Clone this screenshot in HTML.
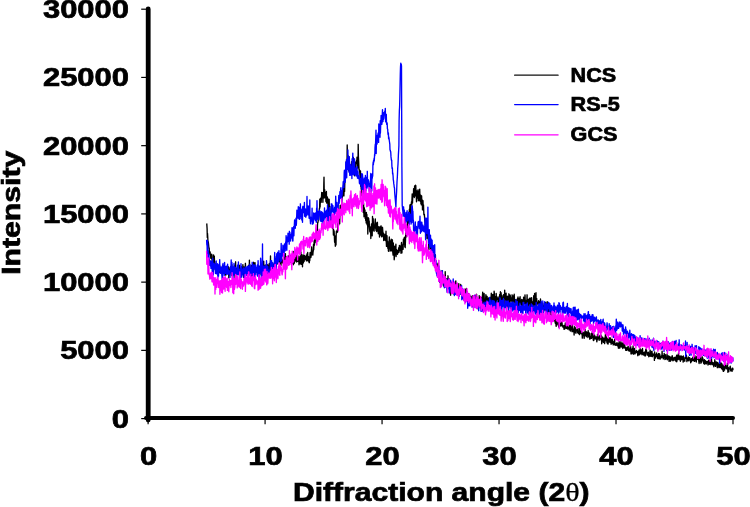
<!DOCTYPE html>
<html><head><meta charset="utf-8"><style>
html,body{margin:0;padding:0;background:#fff;}
svg{display:block;filter:blur(0.45px);}
text{font-family:"Liberation Sans",sans-serif;font-weight:bold;fill:#000;stroke:#000;stroke-width:0.7px;}
</style></head><body>
<svg width="750" height="507" viewBox="0 0 750 507">
<rect width="750" height="507" fill="#fff"/>
<g fill="none" stroke-width="1.35" stroke-linejoin="round">
<path d="M206.6 223.5 206.8 224.0 207.1 228.8 207.3 237.4 207.5 233.4 207.8 238.1 208.0 243.7 208.2 241.6 208.5 243.9 208.7 245.7 208.9 248.1 209.2 248.0 209.4 253.7 209.6 253.0 209.9 254.7 210.1 251.8 210.3 254.3 210.6 256.0 210.8 258.3 211.0 257.2 211.3 257.0 211.5 258.6 211.7 254.1 212.0 255.7 212.2 268.6 212.4 266.5 212.7 261.2 212.9 262.3 213.1 260.6 213.4 260.9 213.6 255.0 213.8 265.9 214.1 263.8 214.3 256.2 214.5 261.1 214.8 261.4 215.0 265.6 215.2 269.7 215.5 264.0 215.7 264.5 215.9 269.3 216.2 267.8 216.4 266.1 216.7 269.3 216.9 266.8 217.1 266.5 217.4 267.1 217.6 269.2 217.8 265.9 218.1 265.2 218.3 267.4 218.5 271.2 218.8 266.1 219.0 270.3 219.2 265.7 219.5 272.2 219.7 265.7 219.9 268.8 220.2 272.9 220.4 269.9 220.6 268.7 220.9 268.0 221.1 272.2 221.3 272.7 221.6 268.4 221.8 270.6 222.0 268.4 222.3 266.7 222.5 274.7 222.7 268.4 223.0 265.2 223.2 270.3 223.4 272.1 223.7 266.9 223.9 268.6 224.1 266.5 224.4 270.7 224.6 274.5 224.8 270.0 225.1 271.2 225.3 267.1 225.5 269.1 225.8 275.2 226.0 273.8 226.2 266.9 226.5 267.7 226.7 272.1 226.9 270.0 227.2 268.6 227.4 268.5 227.6 267.2 227.9 269.3 228.1 270.5 228.3 271.1 228.6 266.8 228.8 277.8 229.1 270.8 229.3 270.3 229.5 275.2 229.8 269.4 230.0 272.7 230.2 267.6 230.5 270.9 230.7 268.3 230.9 266.4 231.2 269.2 231.4 273.4 231.6 275.5 231.9 264.6 232.1 270.8 232.3 272.8 232.6 270.0 232.8 271.1 233.0 267.6 233.3 270.3 233.5 270.4 233.7 272.8 234.0 268.8 234.2 273.8 234.4 268.2 234.7 265.3 234.9 275.5 235.1 278.6 235.4 268.3 235.6 261.8 235.8 273.7 236.1 274.5 236.3 268.3 236.5 273.1 236.8 272.0 237.0 271.5 237.2 268.5 237.5 271.6 237.7 269.3 237.9 270.9 238.2 273.1 238.4 271.3 238.6 273.4 238.9 270.2 239.1 274.0 239.3 273.9 239.6 265.3 239.8 270.4 240.0 270.4 240.3 268.5 240.5 271.6 240.7 270.9 241.0 268.7 241.2 269.2 241.5 274.0 241.7 267.3 241.9 272.1 242.2 273.7 242.4 273.1 242.6 271.4 242.9 264.6 243.1 274.0 243.3 269.5 243.6 277.3 243.8 270.1 244.0 267.0 244.3 270.8 244.5 272.2 244.7 269.2 245.0 267.7 245.2 267.8 245.4 263.3 245.7 269.3 245.9 272.0 246.1 270.4 246.4 270.2 246.6 269.6 246.8 270.1 247.1 269.4 247.3 275.6 247.5 267.1 247.8 271.9 248.0 273.9 248.2 267.7 248.5 265.4 248.7 268.2 248.9 269.3 249.2 273.0 249.4 260.1 249.6 266.9 249.9 273.7 250.1 272.5 250.3 269.5 250.6 275.0 250.8 269.1 251.0 271.2 251.3 265.4 251.5 266.3 251.7 278.7 252.0 269.3 252.2 274.9 252.4 265.6 252.7 268.8 252.9 267.5 253.1 272.9 253.4 263.0 253.6 262.3 253.8 272.8 254.1 267.8 254.3 271.4 254.6 269.1 254.8 273.3 255.0 262.6 255.3 272.2 255.5 269.9 255.7 267.1 256.0 271.0 256.2 269.6 256.4 270.6 256.7 269.1 256.9 272.6 257.1 270.1 257.4 269.2 257.6 269.6 257.8 268.3 258.1 269.4 258.3 265.8 258.5 269.4 258.8 268.8 259.0 270.5 259.2 270.0 259.5 272.5 259.7 266.4 259.9 272.0 260.2 270.6 260.4 266.8 260.6 266.6 260.9 269.3 261.1 274.8 261.3 266.4 261.6 266.9 261.8 272.6 262.0 265.1 262.3 270.1 262.5 271.5 262.7 267.3 263.0 268.2 263.2 266.8 263.4 273.0 263.7 261.2 263.9 269.5 264.1 272.6 264.4 265.2 264.6 268.5 264.8 266.1 265.1 268.4 265.3 267.4 265.5 266.3 265.8 269.6 266.0 264.7 266.2 268.6 266.5 269.9 266.7 266.6 267.0 265.3 267.2 267.6 267.4 269.7 267.7 264.6 267.9 272.7 268.1 270.2 268.4 266.5 268.6 271.3 268.8 266.4 269.1 266.7 269.3 263.4 269.5 269.6 269.8 268.5 270.0 265.2 270.2 274.7 270.5 255.9 270.7 268.6 270.9 268.7 271.2 263.2 271.4 266.2 271.6 272.2 271.9 263.8 272.1 263.0 272.3 267.5 272.6 266.9 272.8 264.2 273.0 268.9 273.3 264.2 273.5 264.8 273.7 267.6 274.0 269.8 274.2 265.6 274.4 267.6 274.7 260.8 274.9 263.5 275.1 261.1 275.4 263.1 275.6 262.4 275.8 265.8 276.1 260.5 276.3 256.4 276.5 263.4 276.8 264.1 277.0 262.4 277.2 263.2 277.5 263.8 277.7 260.6 277.9 261.9 278.2 255.6 278.4 260.4 278.6 259.0 278.9 256.6 279.1 260.7 279.4 254.6 279.6 261.8 279.8 262.4 280.1 260.8 280.3 259.9 280.5 264.4 280.8 259.6 281.0 265.3 281.2 254.6 281.5 259.7 281.7 261.7 281.9 262.6 282.2 260.7 282.4 260.2 282.6 263.0 282.9 262.5 283.1 260.0 283.3 261.1 283.6 256.0 283.8 255.3 284.0 259.2 284.3 257.6 284.5 263.9 284.7 257.0 285.0 259.3 285.2 257.5 285.4 253.6 285.7 267.1 285.9 258.2 286.1 262.9 286.4 257.0 286.6 263.6 286.8 260.8 287.1 258.3 287.3 256.9 287.5 258.7 287.8 261.7 288.0 260.9 288.2 255.9 288.5 259.0 288.7 264.8 288.9 256.0 289.2 257.5 289.4 255.9 289.6 260.1 289.9 256.0 290.1 262.6 290.3 256.9 290.6 260.6 290.8 256.5 291.0 255.4 291.3 261.5 291.5 259.1 291.8 258.8 292.0 254.7 292.2 256.4 292.5 263.1 292.7 257.3 292.9 256.3 293.2 251.4 293.4 264.7 293.6 260.7 293.9 254.2 294.1 263.6 294.3 263.1 294.6 257.0 294.8 255.3 295.0 261.2 295.3 257.0 295.5 258.4 295.7 253.5 296.0 258.8 296.2 255.4 296.4 262.0 296.7 259.5 296.9 259.2 297.1 254.8 297.4 256.8 297.6 261.5 297.8 256.4 298.1 256.1 298.3 259.2 298.5 259.7 298.8 259.5 299.0 264.8 299.2 258.1 299.5 258.0 299.7 261.8 299.9 256.2 300.2 263.6 300.4 260.7 300.6 260.4 300.9 251.8 301.1 264.4 301.3 256.8 301.6 255.4 301.8 257.4 302.0 254.6 302.3 262.3 302.5 266.8 302.7 256.0 303.0 263.0 303.2 259.9 303.4 262.9 303.7 255.0 303.9 255.7 304.2 261.3 304.4 255.5 304.6 258.3 304.9 259.2 305.1 258.5 305.3 259.4 305.6 256.5 305.8 257.6 306.0 259.9 306.3 255.1 306.5 260.9 306.7 257.7 307.0 257.2 307.2 253.5 307.4 260.5 307.7 252.5 307.9 258.1 308.1 259.4 308.4 261.1 308.6 256.6 308.8 258.5 309.1 262.6 309.3 262.7 309.5 260.6 309.8 260.6 310.0 253.9 310.2 252.4 310.5 253.8 310.7 255.1 310.9 257.5 311.2 255.3 311.4 251.9 311.6 247.0 311.9 250.9 312.1 254.7 312.3 253.1 312.6 254.5 312.8 255.1 313.0 252.5 313.3 250.7 313.5 244.4 313.7 249.8 314.0 243.7 314.2 240.7 314.4 245.3 314.7 238.3 314.9 240.0 315.1 242.6 315.4 238.7 315.6 238.1 315.8 237.5 316.1 235.9 316.3 233.2 316.6 230.7 316.8 234.0 317.0 229.3 317.3 233.3 317.5 225.3 317.7 222.5 318.0 222.4 318.2 220.1 318.4 217.2 318.7 220.0 318.9 216.6 319.1 212.0 319.4 208.4 319.6 208.8 319.8 199.1 320.1 207.0 320.3 201.1 320.5 198.3 320.8 201.7 321.0 202.4 321.2 201.9 321.5 196.5 321.7 192.5 321.9 195.2 322.2 195.1 322.4 196.7 322.6 192.7 322.9 202.3 323.1 193.0 323.3 193.3 323.6 198.1 323.8 184.4 324.0 177.1 324.3 196.7 324.5 197.7 324.7 189.6 325.0 197.7 325.2 192.4 325.4 193.2 325.7 195.0 325.9 201.5 326.1 199.4 326.4 191.4 326.6 203.1 326.8 202.0 327.1 200.0 327.3 196.9 327.5 199.5 327.8 198.2 328.0 205.7 328.2 199.3 328.5 202.0 328.7 211.6 329.0 200.9 329.2 199.3 329.4 212.3 329.7 210.4 329.9 206.5 330.1 218.9 330.4 222.1 330.6 220.7 330.8 219.2 331.1 220.5 331.3 217.3 331.5 219.8 331.8 227.0 332.0 221.3 332.2 217.5 332.5 221.4 332.7 223.6 332.9 228.6 333.2 226.2 333.4 235.1 333.6 229.7 333.9 234.3 334.1 230.9 334.3 234.8 334.6 242.2 334.8 238.8 335.0 235.8 335.3 246.3 335.5 244.1 335.7 243.5 336.0 244.9 336.2 233.9 336.4 231.1 336.7 231.7 336.9 232.5 337.1 232.2 337.4 229.7 337.6 232.1 337.8 224.3 338.1 222.3 338.3 221.3 338.5 225.7 338.8 221.9 339.0 221.5 339.2 212.3 339.5 217.3 339.7 223.8 339.9 212.9 340.2 205.2 340.4 208.3 340.6 205.7 340.9 207.4 341.1 213.7 341.4 211.3 341.6 207.3 341.8 201.1 342.1 197.6 342.3 194.3 342.5 196.7 342.8 189.7 343.0 193.0 343.2 193.0 343.5 184.9 343.7 190.3 343.9 195.9 344.2 187.2 344.4 180.7 344.6 191.4 344.9 178.8 345.1 176.9 345.3 179.5 345.6 177.9 345.8 171.8 346.0 170.3 346.3 161.1 346.5 162.8 346.7 169.0 347.0 164.2 347.2 145.0 347.4 153.9 347.7 160.7 347.9 161.6 348.1 155.7 348.4 164.0 348.6 165.8 348.8 170.9 349.1 167.7 349.3 157.1 349.5 172.6 349.8 167.2 350.0 173.6 350.2 167.8 350.5 165.2 350.7 169.9 350.9 165.8 351.2 165.8 351.4 167.0 351.6 161.7 351.9 165.6 352.1 170.1 352.3 171.7 352.6 172.4 352.8 166.9 353.0 170.2 353.3 157.3 353.5 161.1 353.8 169.8 354.0 170.3 354.2 161.2 354.5 175.8 354.7 169.2 354.9 162.7 355.2 170.1 355.4 167.7 355.6 166.6 355.9 161.8 356.1 163.5 356.3 161.8 356.6 160.5 356.8 162.4 357.0 157.2 357.3 164.6 357.5 167.1 357.7 168.0 358.0 166.8 358.2 144.3 358.4 156.5 358.7 161.8 358.9 166.7 359.1 170.3 359.4 169.6 359.6 170.7 359.8 173.0 360.1 178.3 360.3 175.8 360.5 170.9 360.8 186.4 361.0 179.6 361.2 189.3 361.5 180.9 361.7 187.1 361.9 195.7 362.2 188.9 362.4 184.1 362.6 194.3 362.9 192.4 363.1 200.6 363.3 212.5 363.6 203.6 363.8 210.3 364.0 216.7 364.3 207.7 364.5 210.7 364.7 215.2 365.0 209.9 365.2 218.5 365.4 212.6 365.7 220.5 365.9 214.9 366.2 223.0 366.4 212.4 366.6 218.7 366.9 214.4 367.1 224.7 367.3 223.4 367.6 217.8 367.8 234.1 368.0 226.9 368.3 217.7 368.5 220.6 368.7 218.5 369.0 224.6 369.2 220.9 369.4 227.0 369.7 230.2 369.9 231.9 370.1 227.0 370.4 227.3 370.6 227.7 370.8 238.5 371.1 234.0 371.3 227.5 371.5 223.9 371.8 227.9 372.0 229.3 372.2 235.8 372.5 216.5 372.7 230.5 372.9 218.2 373.2 218.9 373.4 224.7 373.6 228.5 373.9 225.5 374.1 231.2 374.3 225.1 374.6 226.3 374.8 224.0 375.0 222.3 375.3 218.9 375.5 228.3 375.7 222.1 376.0 230.3 376.2 230.8 376.4 229.8 376.7 231.5 376.9 223.1 377.1 223.6 377.4 222.3 377.6 228.1 377.8 227.0 378.1 230.9 378.3 233.6 378.6 226.8 378.8 227.8 379.0 234.0 379.3 226.8 379.5 237.1 379.7 230.5 380.0 232.6 380.2 232.4 380.4 235.0 380.7 226.4 380.9 228.3 381.1 225.8 381.4 230.5 381.6 236.8 381.8 233.1 382.1 236.7 382.3 230.1 382.5 227.3 382.8 231.4 383.0 235.8 383.2 235.2 383.5 233.1 383.7 240.5 383.9 234.1 384.2 234.3 384.4 237.8 384.6 237.7 384.9 235.6 385.1 240.1 385.3 240.5 385.6 234.2 385.8 236.9 386.0 231.2 386.3 242.7 386.5 246.4 386.7 235.4 387.0 235.8 387.2 243.2 387.4 246.7 387.7 241.1 387.9 248.6 388.1 243.0 388.4 251.0 388.6 243.2 388.8 251.4 389.1 243.9 389.3 236.9 389.5 244.6 389.8 240.7 390.0 246.8 390.2 248.1 390.5 250.9 390.7 240.8 391.0 245.6 391.2 239.1 391.4 250.9 391.7 247.3 391.9 246.3 392.1 241.2 392.4 239.8 392.6 250.2 392.8 252.4 393.1 255.1 393.3 242.9 393.5 249.0 393.8 251.5 394.0 249.4 394.2 259.8 394.5 256.7 394.7 246.2 394.9 248.7 395.2 249.9 395.4 254.8 395.6 248.7 395.9 244.2 396.1 256.5 396.3 251.4 396.6 253.1 396.8 249.8 397.0 251.0 397.3 251.5 397.5 254.3 397.7 250.7 398.0 253.0 398.2 251.0 398.4 250.5 398.7 247.6 398.9 252.3 399.1 251.1 399.4 245.5 399.6 250.5 399.8 250.5 400.1 245.9 400.3 248.1 400.5 248.7 400.8 248.0 401.0 253.3 401.2 246.3 401.5 242.5 401.7 245.0 401.9 252.9 402.2 245.3 402.4 249.5 402.6 246.5 402.9 244.7 403.1 249.4 403.4 239.2 403.6 244.2 403.8 240.5 404.1 240.7 404.3 237.5 404.5 237.3 404.8 246.7 405.0 240.1 405.2 247.6 405.5 240.3 405.7 235.1 405.9 233.5 406.2 231.2 406.4 236.8 406.6 233.3 406.9 232.5 407.1 226.4 407.3 223.5 407.6 229.3 407.8 214.7 408.0 224.6 408.3 224.4 408.5 219.0 408.7 216.8 409.0 215.9 409.2 218.8 409.4 209.1 409.7 212.9 409.9 205.6 410.1 204.7 410.4 213.6 410.6 211.3 410.8 210.2 411.1 204.3 411.3 203.8 411.5 201.8 411.8 204.7 412.0 198.8 412.2 193.9 412.5 203.1 412.7 197.6 412.9 195.2 413.2 196.3 413.4 196.3 413.6 188.7 413.9 190.3 414.1 191.7 414.3 197.5 414.6 185.9 414.8 192.7 415.0 196.0 415.3 194.9 415.5 185.2 415.8 185.6 416.0 192.8 416.2 193.4 416.5 201.8 416.7 191.0 416.9 197.7 417.2 198.0 417.4 191.6 417.6 197.1 417.9 190.8 418.1 189.8 418.3 200.7 418.6 194.6 418.8 200.0 419.0 194.4 419.3 191.3 419.5 200.4 419.7 189.1 420.0 197.6 420.2 201.4 420.4 198.0 420.7 195.1 420.9 203.8 421.1 199.2 421.4 204.9 421.6 195.8 421.8 200.9 422.1 204.3 422.3 200.0 422.5 209.9 422.8 207.7 423.0 200.6 423.2 209.1 423.5 204.8 423.7 210.3 423.9 214.8 424.2 214.3 424.4 214.5 424.6 218.1 424.9 221.3 425.1 222.8 425.3 227.2 425.6 223.0 425.8 223.6 426.0 224.0 426.3 235.1 426.5 227.1 426.7 231.8 427.0 238.6 427.2 234.6 427.4 233.6 427.7 236.3 427.9 237.2 428.2 237.0 428.4 237.8 428.6 241.8 428.9 249.9 429.1 245.6 429.3 242.0 429.6 245.7 429.8 242.0 430.0 242.1 430.3 245.5 430.5 239.3 430.7 250.4 431.0 244.0 431.2 249.7 431.4 251.4 431.7 246.9 431.9 251.9 432.1 247.1 432.4 255.1 432.6 251.6 432.8 255.8 433.1 254.5 433.3 256.0 433.5 259.7 433.8 254.1 434.0 262.0 434.2 262.0 434.5 256.1 434.7 256.7 434.9 258.8 435.2 261.0 435.4 254.8 435.6 268.5 435.9 267.7 436.1 269.6 436.3 263.7 436.6 266.8 436.8 264.8 437.0 266.2 437.3 270.9 437.5 273.4 437.7 274.4 438.0 263.1 438.2 267.9 438.4 269.6 438.7 273.3 438.9 273.2 439.1 274.0 439.4 274.3 439.6 282.2 439.8 274.0 440.1 275.5 440.3 273.4 440.5 274.0 440.8 272.1 441.0 275.5 441.3 272.9 441.5 285.4 441.7 280.5 442.0 270.6 442.2 281.5 442.4 278.5 442.7 275.3 442.9 281.3 443.1 275.9 443.4 284.0 443.6 286.0 443.8 284.3 444.1 285.8 444.3 280.2 444.5 281.4 444.8 279.3 445.0 284.3 445.2 271.7 445.5 281.3 445.7 281.3 445.9 279.7 446.2 282.4 446.4 284.0 446.6 281.6 446.9 278.8 447.1 279.9 447.3 279.0 447.6 284.6 447.8 285.5 448.0 275.8 448.3 284.0 448.5 281.6 448.7 280.8 449.0 278.6 449.2 288.7 449.4 285.7 449.7 285.7 449.9 285.4 450.1 293.1 450.4 285.1 450.6 295.2 450.8 284.0 451.1 283.4 451.3 283.3 451.5 289.8 451.8 282.3 452.0 288.8 452.2 290.2 452.5 289.5 452.7 289.1 452.9 285.6 453.2 283.4 453.4 293.9 453.7 288.5 453.9 283.5 454.1 286.1 454.4 285.1 454.6 292.3 454.8 283.7 455.1 292.7 455.3 286.6 455.5 282.6 455.8 280.9 456.0 285.8 456.2 284.7 456.5 290.0 456.7 289.7 456.9 284.0 457.2 288.2 457.4 288.8 457.6 293.4 457.9 288.0 458.1 286.4 458.3 291.6 458.6 290.7 458.8 283.6 459.0 288.7 459.3 290.5 459.5 293.7 459.7 292.1 460.0 291.0 460.2 285.6 460.4 292.7 460.7 284.5 460.9 294.2 461.1 292.4 461.4 288.4 461.6 292.4 461.8 294.7 462.1 292.5 462.3 290.6 462.5 298.4 462.8 293.5 463.0 293.2 463.2 294.4 463.5 290.7 463.7 295.4 463.9 294.9 464.2 293.7 464.4 291.5 464.6 295.0 464.9 289.2 465.1 297.8 465.3 290.4 465.6 298.0 465.8 295.8 466.1 294.1 466.3 288.5 466.5 292.7 466.8 297.4 467.0 291.6 467.2 297.0 467.5 299.2 467.7 295.1 467.9 296.5 468.2 293.7 468.4 299.1 468.6 296.1 468.9 295.4 469.1 296.8 469.3 298.0 469.6 300.5 469.8 295.2 470.0 298.0 470.3 296.9 470.5 300.0 470.7 298.9 471.0 302.7 471.2 299.1 471.4 296.9 471.7 299.4 471.9 296.9 472.1 299.0 472.4 295.6 472.6 301.1 472.8 306.1 473.1 299.1 473.3 301.2 473.5 304.0 473.8 298.5 474.0 299.9 474.2 299.4 474.5 302.1 474.7 300.4 474.9 300.3 475.2 295.1 475.4 303.6 475.6 301.4 475.9 300.2 476.1 307.4 476.3 307.0 476.6 294.3 476.8 307.7 477.0 299.8 477.3 304.7 477.5 304.5 477.7 308.7 478.0 305.1 478.2 299.5 478.5 306.9 478.7 300.3 478.9 301.3 479.2 295.6 479.4 304.1 479.6 298.3 479.9 299.5 480.1 303.3 480.3 307.9 480.6 296.9 480.8 306.5 481.0 303.4 481.3 298.6 481.5 297.7 481.7 304.2 482.0 301.3 482.2 301.9 482.4 296.8 482.7 292.2 482.9 306.7 483.1 297.3 483.4 309.9 483.6 300.1 483.8 303.9 484.1 293.4 484.3 299.5 484.5 302.5 484.8 301.7 485.0 301.9 485.2 299.3 485.5 300.5 485.7 297.7 485.9 294.7 486.2 297.5 486.4 304.0 486.6 305.3 486.9 302.4 487.1 296.3 487.3 300.9 487.6 302.0 487.8 299.3 488.0 304.5 488.3 303.5 488.5 298.0 488.7 300.7 489.0 301.2 489.2 298.5 489.4 301.6 489.7 301.9 489.9 301.1 490.1 297.5 490.4 299.3 490.6 303.5 490.9 300.5 491.1 297.3 491.3 293.2 491.6 303.2 491.8 298.2 492.0 300.2 492.3 296.6 492.5 297.8 492.7 294.4 493.0 297.5 493.2 301.1 493.4 301.0 493.7 297.8 493.9 297.9 494.1 291.2 494.4 293.5 494.6 303.0 494.8 297.9 495.1 303.5 495.3 304.6 495.5 296.5 495.8 297.2 496.0 302.4 496.2 293.5 496.5 302.2 496.7 302.8 496.9 296.7 497.2 298.1 497.4 299.4 497.6 299.0 497.9 298.1 498.1 299.2 498.3 299.3 498.6 305.0 498.8 303.2 499.0 296.7 499.3 301.0 499.5 296.8 499.7 294.5 500.0 299.8 500.2 297.6 500.4 291.7 500.7 296.2 500.9 292.4 501.1 293.4 501.4 296.0 501.6 298.8 501.8 301.2 502.1 302.1 502.3 296.8 502.5 296.8 502.8 298.9 503.0 295.5 503.3 300.3 503.5 294.6 503.7 298.1 504.0 298.4 504.2 298.3 504.4 298.7 504.7 290.2 504.9 303.8 505.1 297.9 505.4 294.5 505.6 296.3 505.8 299.7 506.1 293.1 506.3 302.3 506.5 303.2 506.8 297.1 507.0 303.8 507.2 306.9 507.5 296.2 507.7 296.7 507.9 296.8 508.2 300.9 508.4 298.8 508.6 302.6 508.9 293.8 509.1 296.9 509.3 297.2 509.6 306.0 509.8 297.1 510.0 294.9 510.3 295.8 510.5 297.3 510.7 299.9 511.0 301.1 511.2 298.1 511.4 298.9 511.7 299.4 511.9 301.2 512.1 294.8 512.4 304.1 512.6 300.5 512.8 302.4 513.1 297.2 513.3 295.9 513.5 296.6 513.8 298.2 514.0 305.3 514.2 294.1 514.5 299.2 514.7 301.3 514.9 300.9 515.2 302.2 515.4 299.7 515.7 300.2 515.9 302.4 516.1 309.6 516.4 301.5 516.6 299.9 516.8 299.8 517.1 302.0 517.3 300.1 517.5 298.3 517.8 303.2 518.0 297.0 518.2 308.1 518.5 305.9 518.7 304.9 518.9 309.9 519.2 305.3 519.4 298.1 519.6 298.2 519.9 301.9 520.1 296.7 520.3 301.6 520.6 304.0 520.8 301.7 521.0 303.0 521.3 300.2 521.5 307.4 521.7 299.4 522.0 304.0 522.2 299.8 522.4 307.5 522.7 303.9 522.9 302.3 523.1 299.6 523.4 306.4 523.6 297.1 523.8 300.9 524.1 304.1 524.3 298.5 524.5 302.1 524.8 298.7 525.0 294.9 525.2 299.9 525.5 304.0 525.7 303.7 525.9 300.5 526.2 301.4 526.4 305.0 526.6 304.4 526.9 300.2 527.1 294.8 527.3 310.6 527.6 299.9 527.8 302.9 528.1 299.7 528.3 299.4 528.5 302.0 528.8 305.4 529.0 306.6 529.2 308.1 529.5 298.2 529.7 302.8 529.9 303.8 530.2 303.0 530.4 306.3 530.6 301.1 530.9 297.9 531.1 298.4 531.3 307.0 531.6 297.7 531.8 304.4 532.0 308.0 532.3 305.9 532.5 305.0 532.7 302.0 533.0 305.2 533.2 306.7 533.4 302.7 533.7 295.8 533.9 304.1 534.1 300.4 534.4 301.6 534.6 293.4 534.8 307.8 535.1 298.3 535.3 305.9 535.5 303.8 535.8 302.4 536.0 292.7 536.2 304.7 536.5 308.4 536.7 298.4 536.9 305.3 537.2 303.5 537.4 302.9 537.6 302.6 537.9 303.6 538.1 302.3 538.3 302.1 538.6 300.7 538.8 304.8 539.0 306.0 539.3 307.1 539.5 302.0 539.7 304.1 540.0 302.3 540.2 302.5 540.5 299.0 540.7 303.7 540.9 302.2 541.2 308.3 541.4 308.0 541.6 305.8 541.9 308.7 542.1 302.9 542.3 309.2 542.6 305.1 542.8 312.8 543.0 308.8 543.3 306.6 543.5 306.5 543.7 311.2 544.0 305.6 544.2 303.2 544.4 304.2 544.7 308.2 544.9 308.1 545.1 310.0 545.4 304.8 545.6 302.5 545.8 308.4 546.1 311.8 546.3 306.5 546.5 305.1 546.8 315.1 547.0 307.0 547.2 301.6 547.5 305.8 547.7 306.9 547.9 307.7 548.2 306.2 548.4 312.1 548.6 312.2 548.9 309.1 549.1 312.5 549.3 310.2 549.6 316.5 549.8 309.6 550.0 309.7 550.3 312.2 550.5 312.3 550.7 308.7 551.0 316.3 551.2 316.2 551.4 317.0 551.7 315.6 551.9 317.5 552.1 315.1 552.4 317.3 552.6 319.7 552.9 320.3 553.1 313.5 553.3 317.1 553.6 317.9 553.8 317.6 554.0 318.3 554.3 316.5 554.5 317.3 554.7 320.6 555.0 321.6 555.2 322.6 555.4 323.3 555.7 317.1 555.9 323.2 556.1 326.3 556.4 323.7 556.6 323.9 556.8 321.6 557.1 324.9 557.3 321.8 557.5 322.5 557.8 320.7 558.0 319.0 558.2 317.4 558.5 321.1 558.7 327.1 558.9 325.4 559.2 323.9 559.4 319.8 559.6 323.1 559.9 322.0 560.1 325.2 560.3 323.5 560.6 323.3 560.8 326.1 561.0 323.3 561.3 322.8 561.5 325.6 561.7 323.1 562.0 321.7 562.2 325.3 562.4 325.6 562.7 326.3 562.9 327.1 563.1 325.4 563.4 326.8 563.6 326.6 563.8 327.7 564.1 329.4 564.3 328.2 564.5 325.5 564.8 328.9 565.0 327.8 565.3 322.9 565.5 324.1 565.7 328.1 566.0 325.4 566.2 328.2 566.4 323.3 566.7 328.2 566.9 326.8 567.1 324.0 567.4 328.9 567.6 324.3 567.8 329.0 568.1 326.8 568.3 328.0 568.5 327.7 568.8 327.2 569.0 327.8 569.2 329.9 569.5 325.9 569.7 326.3 569.9 325.1 570.2 325.0 570.4 331.0 570.6 325.4 570.9 325.4 571.1 329.4 571.3 326.1 571.6 325.3 571.8 329.7 572.0 331.6 572.3 329.5 572.5 322.8 572.7 328.4 573.0 331.6 573.2 329.7 573.4 331.4 573.7 330.2 573.9 329.2 574.1 335.0 574.4 328.8 574.6 326.6 574.8 330.2 575.1 330.7 575.3 327.6 575.5 332.8 575.8 332.8 576.0 333.2 576.2 330.7 576.5 329.6 576.7 330.7 576.9 329.5 577.2 328.9 577.4 329.8 577.7 332.7 577.9 331.6 578.1 328.4 578.4 333.5 578.6 331.8 578.8 332.3 579.1 331.9 579.3 333.9 579.5 334.6 579.8 326.3 580.0 329.9 580.2 333.5 580.5 332.2 580.7 330.7 580.9 333.0 581.2 331.0 581.4 333.8 581.6 333.3 581.9 332.8 582.1 333.7 582.3 338.1 582.6 332.9 582.8 332.5 583.0 332.1 583.3 335.3 583.5 332.6 583.7 332.9 584.0 337.3 584.2 338.3 584.4 332.6 584.7 335.8 584.9 331.7 585.1 329.4 585.4 335.2 585.6 335.6 585.8 334.2 586.1 332.8 586.3 336.8 586.5 331.8 586.8 332.4 587.0 333.2 587.2 335.8 587.5 332.8 587.7 333.1 587.9 337.5 588.2 330.6 588.4 335.8 588.6 334.4 588.9 336.4 589.1 334.6 589.3 333.0 589.6 337.3 589.8 339.2 590.1 336.7 590.3 338.6 590.5 337.5 590.8 336.3 591.0 336.2 591.2 333.4 591.5 338.4 591.7 335.6 591.9 337.5 592.2 333.6 592.4 331.3 592.6 336.1 592.9 333.2 593.1 338.0 593.3 340.3 593.6 339.7 593.8 340.5 594.0 339.2 594.3 337.7 594.5 334.8 594.7 335.8 595.0 336.4 595.2 338.3 595.4 339.0 595.7 337.4 595.9 337.3 596.1 337.1 596.4 336.9 596.6 337.9 596.8 341.8 597.1 340.1 597.3 339.6 597.5 334.3 597.8 338.8 598.0 336.5 598.2 334.9 598.5 337.4 598.7 338.9 598.9 338.8 599.2 340.3 599.4 337.6 599.6 335.9 599.9 337.1 600.1 336.8 600.3 336.9 600.6 334.3 600.8 339.8 601.0 338.2 601.3 337.1 601.5 336.0 601.7 343.8 602.0 339.8 602.2 339.2 602.5 341.0 602.7 337.1 602.9 338.5 603.2 339.8 603.4 342.4 603.6 341.8 603.9 341.2 604.1 338.2 604.3 341.8 604.6 343.6 604.8 342.3 605.0 340.6 605.3 335.9 605.5 334.2 605.7 340.5 606.0 337.6 606.2 336.7 606.4 337.0 606.7 339.9 606.9 342.4 607.1 340.8 607.4 343.7 607.6 339.4 607.8 338.4 608.1 344.0 608.3 340.3 608.5 339.7 608.8 337.8 609.0 337.6 609.2 338.9 609.5 342.1 609.7 341.6 609.9 338.4 610.2 342.3 610.4 341.2 610.6 338.0 610.9 341.1 611.1 344.3 611.3 342.2 611.6 340.3 611.8 342.2 612.0 339.5 612.3 339.3 612.5 343.4 612.7 343.2 613.0 342.5 613.2 344.9 613.4 341.7 613.7 343.0 613.9 341.1 614.1 344.1 614.4 344.7 614.6 339.2 614.9 344.9 615.1 344.4 615.3 344.9 615.6 344.1 615.8 345.4 616.0 343.8 616.3 345.2 616.5 344.7 616.7 343.2 617.0 342.6 617.2 343.2 617.4 345.8 617.7 343.6 617.9 344.8 618.1 344.8 618.4 348.2 618.6 343.4 618.8 345.2 619.1 341.5 619.3 343.8 619.5 347.5 619.8 348.2 620.0 343.1 620.2 347.3 620.5 344.3 620.7 346.4 620.9 341.6 621.2 345.8 621.4 343.0 621.6 343.5 621.9 347.2 622.1 347.1 622.3 343.5 622.6 346.6 622.8 348.5 623.0 344.3 623.3 341.6 623.5 347.1 623.7 344.2 624.0 347.5 624.2 344.5 624.4 347.9 624.7 344.8 624.9 346.5 625.1 348.1 625.4 347.3 625.6 349.0 625.8 350.3 626.1 350.2 626.3 348.3 626.5 350.4 626.8 347.5 627.0 347.4 627.3 347.6 627.5 349.7 627.7 348.7 628.0 348.9 628.2 346.3 628.4 350.7 628.7 350.0 628.9 349.8 629.1 349.7 629.4 351.0 629.6 350.9 629.8 347.7 630.1 351.1 630.3 348.1 630.5 345.9 630.8 347.5 631.0 353.9 631.2 348.8 631.5 349.5 631.7 349.4 631.9 353.9 632.2 349.2 632.4 353.1 632.6 348.3 632.9 348.8 633.1 345.9 633.3 351.8 633.6 354.2 633.8 349.0 634.0 349.4 634.3 352.0 634.5 348.5 634.7 349.9 635.0 353.9 635.2 352.1 635.4 352.3 635.7 351.7 635.9 351.1 636.1 352.9 636.4 352.0 636.6 350.4 636.8 351.8 637.1 352.3 637.3 352.4 637.5 352.0 637.8 355.7 638.0 351.6 638.2 354.0 638.5 351.7 638.7 354.9 638.9 350.2 639.2 351.6 639.4 354.8 639.6 351.7 639.9 353.7 640.1 348.6 640.4 351.3 640.6 353.9 640.8 351.9 641.1 352.5 641.3 350.0 641.5 351.8 641.8 351.5 642.0 354.8 642.2 351.0 642.5 348.5 642.7 351.4 642.9 352.8 643.2 352.4 643.4 354.7 643.6 352.5 643.9 355.1 644.1 352.8 644.3 353.7 644.6 354.6 644.8 351.9 645.0 356.0 645.3 353.2 645.5 355.8 645.7 349.6 646.0 349.3 646.2 351.6 646.4 349.5 646.7 352.2 646.9 352.3 647.1 354.3 647.4 355.2 647.6 353.3 647.8 354.6 648.1 354.5 648.3 352.2 648.5 353.9 648.8 356.8 649.0 354.2 649.2 355.3 649.5 354.4 649.7 356.0 649.9 351.5 650.2 350.2 650.4 356.2 650.6 352.8 650.9 352.9 651.1 356.3 651.3 354.0 651.6 351.5 651.8 352.6 652.0 351.2 652.3 356.7 652.5 356.0 652.8 354.0 653.0 353.9 653.2 354.6 653.5 355.5 653.7 355.6 653.9 356.0 654.2 354.0 654.4 360.4 654.6 351.9 654.9 356.1 655.1 357.9 655.3 354.1 655.6 358.0 655.8 354.5 656.0 356.1 656.3 354.3 656.5 353.9 656.7 353.0 657.0 356.6 657.2 356.2 657.4 355.7 657.7 358.5 657.9 354.7 658.1 355.6 658.4 358.6 658.6 353.6 658.8 353.4 659.1 358.7 659.3 355.1 659.5 353.8 659.8 354.6 660.0 358.3 660.2 359.1 660.5 356.7 660.7 357.5 660.9 356.6 661.2 356.8 661.4 355.7 661.6 357.8 661.9 357.1 662.1 351.1 662.3 357.2 662.6 355.5 662.8 356.5 663.0 356.7 663.3 358.9 663.5 356.2 663.7 357.4 664.0 355.7 664.2 353.4 664.4 357.1 664.7 356.0 664.9 359.5 665.2 357.4 665.4 354.7 665.6 357.8 665.9 359.0 666.1 357.4 666.3 358.2 666.6 358.4 666.8 358.7 667.0 354.2 667.3 359.8 667.5 359.0 667.7 359.3 668.0 355.9 668.2 358.9 668.4 355.9 668.7 358.1 668.9 358.5 669.1 361.4 669.4 356.3 669.6 357.6 669.8 358.0 670.1 359.0 670.3 359.6 670.5 361.2 670.8 357.0 671.0 358.3 671.2 359.5 671.5 360.0 671.7 358.5 671.9 358.9 672.2 355.6 672.4 357.3 672.6 359.9 672.9 360.9 673.1 359.2 673.3 360.5 673.6 358.6 673.8 357.9 674.0 357.5 674.3 357.9 674.5 359.1 674.7 357.5 675.0 360.4 675.2 358.8 675.4 357.1 675.7 358.1 675.9 361.1 676.1 360.9 676.4 361.7 676.6 355.2 676.8 361.6 677.1 358.9 677.3 355.1 677.6 356.6 677.8 356.1 678.0 359.6 678.3 357.2 678.5 353.0 678.7 358.7 679.0 357.8 679.2 359.2 679.4 358.6 679.7 357.9 679.9 355.9 680.1 360.3 680.4 361.3 680.6 358.5 680.8 358.2 681.1 355.9 681.3 357.2 681.5 359.7 681.8 357.5 682.0 356.4 682.2 358.0 682.5 359.2 682.7 357.2 682.9 359.2 683.2 362.1 683.4 356.0 683.6 361.0 683.9 359.1 684.1 359.1 684.3 359.1 684.6 359.0 684.8 361.2 685.0 357.5 685.3 358.4 685.5 358.4 685.7 356.5 686.0 356.5 686.2 356.1 686.4 355.1 686.7 357.8 686.9 361.6 687.1 358.3 687.4 358.7 687.6 358.6 687.8 359.9 688.1 360.4 688.3 357.3 688.5 357.0 688.8 360.9 689.0 357.9 689.2 359.2 689.5 359.6 689.7 357.6 690.0 359.1 690.2 360.0 690.4 358.9 690.7 362.8 690.9 360.2 691.1 359.9 691.4 361.7 691.6 358.8 691.8 358.6 692.1 360.3 692.3 359.5 692.5 358.0 692.8 357.3 693.0 360.7 693.2 358.7 693.5 357.4 693.7 359.4 693.9 360.8 694.2 360.8 694.4 360.0 694.6 361.4 694.9 355.7 695.1 360.6 695.3 358.8 695.6 359.2 695.8 358.4 696.0 360.3 696.3 362.0 696.5 356.6 696.7 359.8 697.0 359.5 697.2 359.3 697.4 357.4 697.7 358.3 697.9 357.6 698.1 358.3 698.4 359.5 698.6 359.4 698.8 361.3 699.1 363.5 699.3 360.4 699.5 361.9 699.8 355.2 700.0 357.1 700.2 357.8 700.5 361.1 700.7 356.2 700.9 363.3 701.2 362.4 701.4 361.7 701.6 362.1 701.9 360.1 702.1 360.1 702.4 356.9 702.6 358.7 702.8 358.3 703.1 359.9 703.3 361.0 703.5 362.0 703.8 363.6 704.0 362.5 704.2 361.6 704.5 359.6 704.7 364.2 704.9 363.6 705.2 360.8 705.4 363.2 705.6 360.7 705.9 362.1 706.1 362.8 706.3 363.9 706.6 361.7 706.8 362.9 707.0 362.8 707.3 362.9 707.5 361.4 707.7 361.6 708.0 365.0 708.2 362.3 708.4 361.3 708.7 360.2 708.9 360.7 709.1 361.8 709.4 364.4 709.6 363.7 709.8 360.7 710.1 363.7 710.3 360.6 710.5 360.2 710.8 364.6 711.0 361.9 711.2 362.9 711.5 359.1 711.7 361.3 711.9 363.8 712.2 362.2 712.4 364.7 712.6 363.4 712.9 362.8 713.1 362.9 713.3 362.7 713.6 365.0 713.8 366.8 714.0 364.1 714.3 365.1 714.5 364.8 714.8 359.7 715.0 361.6 715.2 364.1 715.5 366.4 715.7 366.2 715.9 363.3 716.2 362.0 716.4 364.6 716.6 363.9 716.9 363.7 717.1 362.3 717.3 367.7 717.6 364.1 717.8 363.7 718.0 362.8 718.3 363.9 718.5 366.7 718.7 365.8 719.0 367.6 719.2 364.6 719.4 364.7 719.7 364.2 719.9 366.9 720.1 367.3 720.4 362.6 720.6 365.1 720.8 362.4 721.1 364.8 721.3 368.3 721.5 364.3 721.8 363.6 722.0 366.7 722.2 369.5 722.5 364.9 722.7 366.4 722.9 365.7 723.2 371.1 723.4 365.6 723.6 371.4 723.9 368.1 724.1 365.0 724.3 370.0 724.6 370.1 724.8 367.7 725.0 364.0 725.3 364.1 725.5 368.2 725.7 365.4 726.0 366.2 726.2 366.9 726.4 366.8 726.7 368.8 726.9 366.2 727.2 365.8 727.4 362.9 727.6 366.2 727.9 372.3 728.1 370.2 728.3 367.5 728.6 368.1 728.8 371.6 729.0 368.6 729.3 369.1 729.5 368.6 729.7 368.8 730.0 367.0 730.2 366.1 730.4 367.6 730.7 370.9 730.9 370.5 731.1 370.2 731.4 369.3 731.6 370.1 731.8 370.1 732.1 371.3 732.3 368.1 732.5 368.4 732.8 368.3 733.0 370.3" stroke="#000"/>
<path d="M206.6 239.8 206.8 244.3 207.1 246.0 207.3 257.0 207.5 240.7 207.8 245.7 208.0 253.6 208.2 250.3 208.5 253.9 208.7 259.0 208.9 253.8 209.2 260.8 209.4 262.4 209.6 265.3 209.9 260.3 210.1 263.2 210.3 260.8 210.6 266.3 210.8 263.5 211.0 268.4 211.3 261.3 211.5 264.6 211.7 264.4 212.0 264.5 212.2 271.1 212.4 263.7 212.7 258.2 212.9 274.5 213.1 275.0 213.4 274.1 213.6 264.0 213.8 267.2 214.1 263.2 214.3 264.8 214.5 267.2 214.8 267.0 215.0 269.1 215.2 264.6 215.5 273.5 215.7 270.5 215.9 267.7 216.2 261.0 216.4 272.3 216.7 273.8 216.9 271.7 217.1 265.1 217.4 270.4 217.6 263.7 217.8 277.8 218.1 264.8 218.3 265.3 218.5 276.1 218.8 269.2 219.0 264.6 219.2 269.5 219.5 265.6 219.7 259.6 219.9 268.8 220.2 271.2 220.4 273.3 220.6 267.2 220.9 270.9 221.1 270.8 221.3 270.5 221.6 267.2 221.8 274.7 222.0 276.8 222.3 280.7 222.5 264.9 222.7 269.8 223.0 263.5 223.2 270.2 223.4 273.4 223.7 268.1 223.9 270.5 224.1 275.7 224.4 274.1 224.6 262.5 224.8 268.7 225.1 268.4 225.3 271.5 225.5 273.3 225.8 266.4 226.0 270.8 226.2 273.6 226.5 270.9 226.7 274.3 226.9 269.5 227.2 265.4 227.4 274.0 227.6 264.2 227.9 273.3 228.1 269.8 228.3 274.1 228.6 271.4 228.8 270.3 229.1 272.4 229.3 273.6 229.5 273.5 229.8 274.1 230.0 277.4 230.2 271.7 230.5 268.8 230.7 266.6 230.9 267.8 231.2 259.9 231.4 269.2 231.6 272.6 231.9 262.5 232.1 275.2 232.3 266.4 232.6 274.9 232.8 269.2 233.0 279.3 233.3 266.8 233.5 271.4 233.7 275.0 234.0 263.4 234.2 267.4 234.4 270.6 234.7 274.1 234.9 271.0 235.1 271.5 235.4 267.7 235.6 267.4 235.8 273.8 236.1 273.3 236.3 273.2 236.5 276.8 236.8 273.5 237.0 271.3 237.2 267.9 237.5 265.2 237.7 274.5 237.9 268.6 238.2 273.0 238.4 262.0 238.6 271.3 238.9 268.9 239.1 275.2 239.3 274.6 239.6 270.2 239.8 272.8 240.0 269.6 240.3 278.0 240.5 268.3 240.7 275.1 241.0 263.7 241.2 272.4 241.5 266.4 241.7 277.3 241.9 269.3 242.2 275.1 242.4 273.3 242.6 271.1 242.9 272.6 243.1 270.0 243.3 267.9 243.6 268.3 243.8 271.5 244.0 277.1 244.3 274.6 244.5 272.0 244.7 280.4 245.0 267.8 245.2 272.1 245.4 272.2 245.7 266.9 245.9 268.2 246.1 270.1 246.4 275.4 246.6 269.7 246.8 269.5 247.1 274.9 247.3 266.5 247.5 268.8 247.8 279.6 248.0 270.5 248.2 276.5 248.5 266.0 248.7 267.5 248.9 275.8 249.2 274.8 249.4 270.5 249.6 272.0 249.9 264.3 250.1 267.7 250.3 272.2 250.6 268.4 250.8 279.8 251.0 269.5 251.3 267.1 251.5 271.7 251.7 274.0 252.0 268.4 252.2 262.3 252.4 270.0 252.7 275.7 252.9 264.5 253.1 279.0 253.4 268.6 253.6 273.3 253.8 266.7 254.1 274.5 254.3 265.0 254.6 269.5 254.8 278.3 255.0 279.4 255.3 272.1 255.5 265.1 255.7 270.2 256.0 270.4 256.2 271.7 256.4 267.5 256.7 269.1 256.9 269.5 257.1 275.0 257.4 265.5 257.6 264.7 257.8 276.3 258.1 260.6 258.3 267.5 258.5 272.8 258.8 278.9 259.0 267.8 259.2 268.2 259.5 273.2 259.7 278.4 259.9 265.7 260.2 273.2 260.4 272.6 260.6 258.1 260.9 261.3 261.1 266.4 261.3 272.5 261.6 267.7 261.8 280.4 262.0 269.9 262.3 273.6 262.5 243.9 262.7 277.0 263.0 267.7 263.2 269.6 263.4 269.2 263.7 266.1 263.9 273.4 264.1 275.0 264.4 277.3 264.6 270.9 264.8 266.0 265.1 269.9 265.3 266.4 265.5 274.3 265.8 271.1 266.0 272.3 266.2 274.3 266.5 260.7 266.7 265.0 267.0 271.9 267.2 271.9 267.4 268.7 267.7 274.7 267.9 266.4 268.1 273.8 268.4 269.7 268.6 272.5 268.8 270.0 269.1 273.7 269.3 274.6 269.5 271.9 269.8 270.6 270.0 268.8 270.2 267.1 270.5 260.7 270.7 263.7 270.9 268.3 271.2 263.9 271.4 270.0 271.6 260.6 271.9 264.5 272.1 272.7 272.3 263.4 272.6 263.0 272.8 278.3 273.0 269.7 273.3 268.1 273.5 274.1 273.7 270.0 274.0 269.1 274.2 262.4 274.4 262.9 274.7 252.4 274.9 265.2 275.1 258.1 275.4 262.4 275.6 261.2 275.8 267.0 276.1 269.9 276.3 264.6 276.5 257.5 276.8 253.6 277.0 257.5 277.2 257.6 277.5 263.0 277.7 252.3 277.9 252.7 278.2 260.6 278.4 258.1 278.6 261.9 278.9 250.7 279.1 255.0 279.4 256.8 279.6 254.2 279.8 253.7 280.1 257.1 280.3 260.4 280.5 260.2 280.8 261.9 281.0 251.7 281.2 243.5 281.5 260.6 281.7 252.1 281.9 250.5 282.2 256.3 282.4 250.5 282.6 255.9 282.9 245.2 283.1 252.8 283.3 249.2 283.6 246.1 283.8 250.7 284.0 256.4 284.3 250.2 284.5 244.0 284.7 247.3 285.0 245.5 285.2 250.9 285.4 245.0 285.7 241.9 285.9 244.5 286.1 235.6 286.4 244.8 286.6 248.1 286.8 250.3 287.1 237.2 287.3 242.3 287.5 236.9 287.8 239.0 288.0 233.2 288.2 234.4 288.5 241.5 288.7 238.1 288.9 233.9 289.2 244.2 289.4 231.3 289.6 232.0 289.9 232.6 290.1 237.6 290.3 234.9 290.6 241.0 290.8 235.1 291.0 237.6 291.3 234.1 291.5 236.3 291.8 232.3 292.0 227.7 292.2 238.8 292.5 228.0 292.7 241.0 292.9 241.0 293.2 230.8 293.4 229.5 293.6 226.7 293.9 235.8 294.1 227.6 294.3 226.0 294.6 219.9 294.8 225.6 295.0 221.9 295.3 228.3 295.5 223.8 295.7 224.3 296.0 218.1 296.2 225.4 296.4 224.0 296.7 216.5 296.9 210.1 297.1 216.0 297.4 215.6 297.6 218.0 297.8 210.4 298.1 212.6 298.3 206.6 298.5 213.0 298.8 218.8 299.0 216.7 299.2 218.5 299.5 219.4 299.7 207.1 299.9 209.0 300.2 218.6 300.4 203.8 300.6 210.9 300.9 216.4 301.1 209.6 301.3 211.6 301.6 214.7 301.8 220.1 302.0 210.2 302.3 208.7 302.5 222.3 302.7 206.9 303.0 206.3 303.2 211.3 303.4 208.2 303.7 209.8 303.9 212.7 304.2 210.6 304.4 202.5 304.6 216.3 304.9 208.3 305.1 208.8 305.3 213.3 305.6 212.2 305.8 217.2 306.0 214.7 306.3 210.6 306.5 209.3 306.7 215.5 307.0 196.5 307.2 214.3 307.4 211.1 307.7 213.1 307.9 214.1 308.1 205.9 308.4 214.9 308.6 206.1 308.8 207.2 309.1 218.3 309.3 208.1 309.5 216.7 309.8 200.0 310.0 215.7 310.2 218.7 310.5 223.7 310.7 220.8 310.9 217.4 311.2 219.7 311.4 221.1 311.6 218.6 311.9 216.3 312.1 208.2 312.3 224.2 312.6 218.6 312.8 220.8 313.0 223.8 313.3 222.7 313.5 221.1 313.7 213.0 314.0 217.5 314.2 219.2 314.4 213.4 314.7 215.0 314.9 217.5 315.1 214.4 315.4 220.5 315.6 213.0 315.8 213.8 316.1 218.2 316.3 222.3 316.6 208.2 316.8 215.5 317.0 200.6 317.3 219.2 317.5 211.4 317.7 218.0 318.0 214.4 318.2 211.4 318.4 219.7 318.7 216.1 318.9 214.7 319.1 214.9 319.4 212.3 319.6 210.1 319.8 211.0 320.1 213.9 320.3 217.1 320.5 221.1 320.8 219.1 321.0 218.0 321.2 211.7 321.5 217.2 321.7 221.7 321.9 212.0 322.2 219.5 322.4 219.3 322.6 216.4 322.9 212.8 323.1 227.9 323.3 221.1 323.6 214.3 323.8 217.2 324.0 219.8 324.3 218.1 324.5 208.0 324.7 217.7 325.0 211.4 325.2 211.0 325.4 217.4 325.7 212.7 325.9 217.3 326.1 218.1 326.4 220.7 326.6 210.1 326.8 216.8 327.1 217.5 327.3 220.5 327.5 204.8 327.8 210.4 328.0 215.0 328.2 217.9 328.5 222.3 328.7 212.5 329.0 212.5 329.2 221.5 329.4 207.7 329.7 209.5 329.9 218.5 330.1 216.1 330.4 215.1 330.6 211.7 330.8 213.0 331.1 220.8 331.3 203.8 331.5 209.7 331.8 204.4 332.0 204.1 332.2 211.7 332.5 208.5 332.7 206.1 332.9 205.6 333.2 210.4 333.4 212.6 333.6 208.8 333.9 213.1 334.1 211.5 334.3 219.2 334.6 207.4 334.8 213.2 335.0 210.4 335.3 207.4 335.5 205.0 335.7 196.1 336.0 204.9 336.2 213.4 336.4 204.7 336.7 208.3 336.9 202.5 337.1 208.1 337.4 207.9 337.6 206.4 337.8 206.7 338.1 212.9 338.3 206.3 338.5 202.4 338.8 195.4 339.0 203.2 339.2 203.3 339.5 197.8 339.7 197.7 339.9 191.6 340.2 196.0 340.4 198.2 340.6 189.7 340.9 187.6 341.1 197.4 341.4 192.8 341.6 201.7 341.8 193.5 342.1 195.2 342.3 190.5 342.5 190.7 342.8 187.7 343.0 186.1 343.2 181.6 343.5 181.7 343.7 184.7 343.9 187.4 344.2 172.5 344.4 170.2 344.6 179.0 344.9 172.3 345.1 182.3 345.3 181.2 345.6 173.0 345.8 162.3 346.0 175.2 346.3 173.4 346.5 159.5 346.7 177.7 347.0 163.3 347.2 163.5 347.4 166.6 347.7 163.8 347.9 150.0 348.1 169.5 348.4 165.5 348.6 165.4 348.8 168.2 349.1 172.1 349.3 156.7 349.5 164.4 349.8 175.4 350.0 170.1 350.2 164.5 350.5 164.9 350.7 175.1 350.9 168.3 351.2 166.7 351.4 166.4 351.6 166.8 351.9 178.5 352.1 158.8 352.3 167.5 352.6 158.9 352.8 153.1 353.0 169.2 353.3 174.8 353.5 163.5 353.8 169.0 354.0 170.4 354.2 173.4 354.5 158.8 354.7 170.0 354.9 175.0 355.2 169.9 355.4 174.4 355.6 168.1 355.9 171.9 356.1 176.0 356.3 167.9 356.6 175.3 356.8 168.8 357.0 166.6 357.3 176.0 357.5 178.2 357.7 174.5 358.0 171.5 358.2 177.0 358.4 177.0 358.7 178.6 358.9 177.1 359.1 175.8 359.4 183.2 359.6 182.4 359.8 180.0 360.1 184.1 360.3 180.2 360.5 178.5 360.8 181.8 361.0 185.2 361.2 186.5 361.5 173.6 361.7 178.5 361.9 189.4 362.2 188.3 362.4 174.0 362.6 175.9 362.9 183.2 363.1 177.8 363.3 191.7 363.6 183.9 363.8 180.0 364.0 193.6 364.3 188.0 364.5 179.8 364.7 177.9 365.0 187.0 365.2 182.4 365.4 175.5 365.7 185.9 365.9 190.9 366.2 184.2 366.4 185.9 366.6 177.1 366.9 183.0 367.1 188.1 367.3 171.3 367.6 186.5 367.8 181.4 368.0 180.3 368.3 179.8 368.5 183.0 368.7 180.8 369.0 184.2 369.2 191.3 369.4 185.0 369.7 184.9 369.9 184.8 370.1 183.2 370.4 187.1 370.6 175.9 370.8 173.5 371.1 192.0 371.3 179.5 371.5 182.1 371.8 190.9 372.0 174.1 372.2 178.4 372.5 176.0 372.7 176.3 372.9 165.0 373.2 161.9 373.4 164.6 373.6 160.1 373.9 161.9 374.1 158.3 374.3 160.6 374.6 154.2 374.8 155.8 375.0 147.8 375.3 144.1 375.5 145.3 375.7 139.4 376.0 130.1 376.2 153.6 376.4 141.2 376.7 142.8 376.9 140.8 377.1 144.0 377.4 135.3 377.6 135.5 377.8 136.0 378.1 133.0 378.3 134.0 378.6 142.4 378.8 124.0 379.0 130.4 379.3 133.1 379.5 125.9 379.7 130.2 380.0 137.3 380.2 120.8 380.4 133.3 380.7 125.1 380.9 122.6 381.1 115.5 381.4 115.7 381.6 120.3 381.8 124.4 382.1 121.9 382.3 113.7 382.5 109.7 382.8 115.7 383.0 121.5 383.2 112.4 383.5 119.3 383.7 119.0 383.9 117.9 384.2 113.0 384.4 114.8 384.6 112.2 384.9 110.9 385.1 112.9 385.3 108.4 385.6 121.8 385.8 117.5 386.0 119.7 386.3 114.3 386.5 122.6 386.7 124.4 387.0 122.6 387.2 123.7 387.4 128.8 387.7 129.2 387.9 133.2 388.1 134.6 388.4 133.0 388.6 138.7 388.8 136.9 389.1 138.9 389.3 140.5 389.5 142.0 389.8 144.2 390.0 149.9 390.2 149.9 390.5 151.6 390.7 151.5 391.0 156.9 391.2 158.5 391.4 160.2 391.7 160.0 391.9 166.3 392.1 168.5 392.4 167.8 392.6 174.1 392.8 172.8 393.1 176.2 393.3 180.1 393.5 180.6 393.8 183.9 394.0 184.8 394.2 187.1 394.5 188.0 394.7 192.8 394.9 195.2 395.2 198.8 395.4 200.6 395.6 202.9 395.9 207.1 396.1 200.6 396.3 196.9 396.6 191.8 396.8 187.0 397.0 182.0 397.3 177.8 397.5 173.7 397.7 168.5 398.0 164.1 398.2 159.7 398.4 154.8 398.7 149.7 398.9 145.6 399.1 121.0 399.4 109.7 399.6 106.9 399.8 99.2 400.1 83.8 400.3 74.0 400.5 67.0 400.8 63.1 401.0 66.8 401.2 64.2 401.5 66.2 401.7 118.8 401.9 166.7 402.2 205.3 402.4 206.8 402.6 209.6 402.9 211.6 403.1 216.2 403.4 213.2 403.6 206.8 403.8 212.5 404.1 213.0 404.3 209.8 404.5 217.0 404.8 217.3 405.0 217.7 405.2 224.9 405.5 214.8 405.7 215.1 405.9 212.5 406.2 222.2 406.4 220.6 406.6 212.7 406.9 215.5 407.1 210.7 407.3 220.8 407.6 216.0 407.8 219.9 408.0 215.5 408.3 219.1 408.5 214.5 408.7 212.1 409.0 213.9 409.2 225.0 409.4 212.7 409.7 214.9 409.9 221.5 410.1 220.8 410.4 216.9 410.6 214.4 410.8 218.9 411.1 224.1 411.3 215.7 411.5 216.1 411.8 206.1 412.0 222.6 412.2 205.7 412.5 209.2 412.7 215.6 412.9 211.1 413.2 221.0 413.4 220.2 413.6 230.8 413.9 227.2 414.1 232.0 414.3 234.5 414.6 228.8 414.8 230.5 415.0 225.1 415.3 222.0 415.5 228.4 415.8 227.4 416.0 226.8 416.2 235.0 416.5 226.5 416.7 227.6 416.9 227.9 417.2 232.5 417.4 236.3 417.6 228.8 417.9 226.3 418.1 221.9 418.3 222.8 418.6 221.4 418.8 226.1 419.0 222.7 419.3 228.6 419.5 225.0 419.7 223.7 420.0 216.1 420.2 226.7 420.4 233.3 420.7 221.8 420.9 231.2 421.1 228.1 421.4 229.1 421.6 231.7 421.8 222.1 422.1 225.3 422.3 230.5 422.5 227.6 422.8 229.7 423.0 225.2 423.2 229.5 423.5 231.2 423.7 230.7 423.9 229.8 424.2 226.7 424.4 231.9 424.6 228.3 424.9 226.0 425.1 218.0 425.3 224.0 425.6 239.8 425.8 228.7 426.0 227.7 426.3 224.1 426.5 218.2 426.7 221.1 427.0 233.5 427.2 223.1 427.4 226.0 427.7 226.7 427.9 207.1 428.2 237.1 428.4 229.8 428.6 243.5 428.9 238.2 429.1 237.3 429.3 229.7 429.6 242.8 429.8 247.5 430.0 237.9 430.3 244.1 430.5 235.2 430.7 245.5 431.0 246.9 431.2 238.8 431.4 244.4 431.7 241.3 431.9 252.3 432.1 240.1 432.4 250.2 432.6 245.1 432.8 253.5 433.1 256.5 433.3 251.9 433.5 250.8 433.8 245.7 434.0 251.6 434.2 251.5 434.5 253.1 434.7 244.7 434.9 262.0 435.2 254.8 435.4 262.0 435.6 261.7 435.9 266.4 436.1 260.7 436.3 272.1 436.6 273.8 436.8 270.6 437.0 275.9 437.3 268.5 437.5 267.9 437.7 275.2 438.0 269.2 438.2 275.5 438.4 273.3 438.7 273.4 438.9 266.0 439.1 274.1 439.4 278.2 439.6 278.5 439.8 270.2 440.1 282.3 440.3 277.7 440.5 277.7 440.8 286.5 441.0 278.7 441.3 273.0 441.5 276.5 441.7 281.5 442.0 275.3 442.2 276.4 442.4 270.6 442.7 282.1 442.9 281.0 443.1 279.6 443.4 280.7 443.6 280.1 443.8 281.2 444.1 283.9 444.3 287.8 444.5 283.8 444.8 287.3 445.0 286.2 445.2 284.3 445.5 280.3 445.7 279.1 445.9 286.8 446.2 281.7 446.4 279.9 446.6 283.4 446.9 289.9 447.1 292.2 447.3 280.7 447.6 280.4 447.8 283.1 448.0 288.5 448.3 278.8 448.5 279.9 448.7 285.1 449.0 286.0 449.2 292.9 449.4 282.5 449.7 291.9 449.9 283.1 450.1 283.1 450.4 285.8 450.6 280.2 450.8 287.8 451.1 284.4 451.3 283.8 451.5 286.0 451.8 288.7 452.0 282.5 452.2 285.7 452.5 288.2 452.7 288.2 452.9 287.2 453.2 279.0 453.4 287.5 453.7 288.9 453.9 292.2 454.1 292.9 454.4 295.6 454.6 287.5 454.8 288.4 455.1 292.6 455.3 294.4 455.5 290.1 455.8 291.0 456.0 294.2 456.2 288.1 456.5 288.8 456.7 289.6 456.9 286.7 457.2 292.1 457.4 284.7 457.6 293.7 457.9 288.1 458.1 287.8 458.3 291.2 458.6 289.1 458.8 295.4 459.0 296.4 459.3 291.8 459.5 293.9 459.7 289.2 460.0 291.5 460.2 289.6 460.4 290.9 460.7 291.5 460.9 292.1 461.1 294.0 461.4 294.6 461.6 285.6 461.8 299.7 462.1 294.2 462.3 290.0 462.5 292.4 462.8 289.0 463.0 292.3 463.2 299.1 463.5 295.9 463.7 300.0 463.9 291.6 464.2 290.1 464.4 297.1 464.6 293.8 464.9 297.4 465.1 301.3 465.3 298.0 465.6 302.2 465.8 298.8 466.1 296.2 466.3 294.5 466.5 292.7 466.8 298.6 467.0 296.8 467.2 296.3 467.5 296.0 467.7 308.3 467.9 301.1 468.2 295.7 468.4 302.7 468.6 298.0 468.9 296.2 469.1 305.9 469.3 300.1 469.6 298.8 469.8 299.8 470.0 305.3 470.3 299.0 470.5 302.3 470.7 297.7 471.0 299.2 471.2 302.8 471.4 300.5 471.7 303.7 471.9 303.9 472.1 307.1 472.4 302.6 472.6 299.2 472.8 301.7 473.1 302.3 473.3 304.4 473.5 304.1 473.8 299.9 474.0 307.6 474.2 295.5 474.5 302.9 474.7 295.3 474.9 298.8 475.2 304.3 475.4 300.5 475.6 302.2 475.9 301.6 476.1 300.5 476.3 305.1 476.6 305.4 476.8 304.8 477.0 308.1 477.3 304.5 477.5 302.9 477.7 302.9 478.0 303.2 478.2 305.2 478.5 301.3 478.7 310.8 478.9 305.4 479.2 305.3 479.4 301.3 479.6 302.2 479.9 301.8 480.1 304.4 480.3 301.3 480.6 307.7 480.8 304.2 481.0 311.3 481.3 298.8 481.5 299.3 481.7 306.4 482.0 307.2 482.2 311.3 482.4 309.4 482.7 304.1 482.9 305.0 483.1 309.2 483.4 306.1 483.6 306.6 483.8 302.9 484.1 302.2 484.3 305.1 484.5 304.1 484.8 304.5 485.0 311.1 485.2 303.9 485.5 304.6 485.7 302.1 485.9 310.2 486.2 302.0 486.4 306.4 486.6 303.6 486.9 300.6 487.1 309.1 487.3 308.5 487.6 301.3 487.8 308.0 488.0 307.4 488.3 302.5 488.5 305.1 488.7 302.0 489.0 303.5 489.2 304.5 489.4 301.3 489.7 297.5 489.9 304.7 490.1 299.8 490.4 300.8 490.6 304.1 490.9 303.0 491.1 307.4 491.3 306.3 491.6 303.5 491.8 304.5 492.0 300.3 492.3 308.5 492.5 305.3 492.7 306.4 493.0 304.9 493.2 300.7 493.4 308.2 493.7 301.7 493.9 306.3 494.1 305.4 494.4 301.2 494.6 305.3 494.8 302.3 495.1 304.0 495.3 304.9 495.5 305.5 495.8 309.8 496.0 306.7 496.2 303.8 496.5 303.7 496.7 309.1 496.9 301.2 497.2 302.6 497.4 308.5 497.6 307.7 497.9 302.8 498.1 309.9 498.3 306.7 498.6 304.5 498.8 304.7 499.0 304.5 499.3 303.1 499.5 306.9 499.7 305.9 500.0 297.8 500.2 308.8 500.4 305.8 500.7 304.0 500.9 306.4 501.1 300.4 501.4 304.1 501.6 301.9 501.8 312.6 502.1 300.5 502.3 300.7 502.5 306.7 502.8 300.2 503.0 303.5 503.3 301.4 503.5 298.5 503.7 304.0 504.0 307.5 504.2 304.4 504.4 308.5 504.7 307.0 504.9 307.0 505.1 306.8 505.4 300.9 505.6 302.1 505.8 307.6 506.1 301.2 506.3 310.2 506.5 307.0 506.8 305.5 507.0 301.3 507.2 302.8 507.5 303.7 507.7 301.1 507.9 303.0 508.2 301.0 508.4 307.9 508.6 310.9 508.9 306.9 509.1 303.0 509.3 304.8 509.6 302.9 509.8 303.5 510.0 304.2 510.3 303.3 510.5 308.3 510.7 302.6 511.0 309.3 511.2 306.5 511.4 310.7 511.7 304.7 511.9 311.3 512.1 301.9 512.4 310.8 512.6 305.7 512.8 307.1 513.1 309.5 513.3 302.7 513.5 308.2 513.8 302.2 514.0 310.2 514.2 309.6 514.5 313.4 514.7 305.4 514.9 304.3 515.2 306.5 515.4 307.8 515.7 310.3 515.9 299.9 516.1 305.1 516.4 313.5 516.6 308.6 516.8 316.0 517.1 302.7 517.3 301.5 517.5 303.2 517.8 308.1 518.0 309.9 518.2 312.6 518.5 306.4 518.7 310.6 518.9 309.5 519.2 310.4 519.4 309.4 519.6 305.6 519.9 303.1 520.1 308.1 520.3 308.6 520.6 312.3 520.8 312.7 521.0 312.2 521.3 306.0 521.5 308.1 521.7 305.8 522.0 307.6 522.2 310.2 522.4 312.9 522.7 310.1 522.9 313.5 523.1 302.5 523.4 308.0 523.6 310.1 523.8 302.5 524.1 310.1 524.3 307.1 524.5 309.4 524.8 307.7 525.0 310.1 525.2 307.3 525.5 304.3 525.7 313.0 525.9 316.1 526.2 304.5 526.4 308.3 526.6 306.1 526.9 309.8 527.1 303.9 527.3 303.0 527.6 312.7 527.8 306.7 528.1 310.9 528.3 314.1 528.5 309.9 528.8 307.1 529.0 313.4 529.2 313.1 529.5 304.9 529.7 308.8 529.9 307.6 530.2 312.7 530.4 311.1 530.6 308.6 530.9 308.4 531.1 308.5 531.3 303.8 531.6 308.5 531.8 314.0 532.0 311.9 532.3 309.2 532.5 304.9 532.7 311.3 533.0 310.3 533.2 309.2 533.4 311.4 533.7 311.8 533.9 309.9 534.1 305.9 534.4 307.5 534.6 310.1 534.8 307.8 535.1 313.3 535.3 305.9 535.5 306.7 535.8 308.1 536.0 314.4 536.2 302.4 536.5 318.3 536.7 312.3 536.9 312.0 537.2 306.7 537.4 313.9 537.6 308.2 537.9 309.4 538.1 309.8 538.3 306.1 538.6 304.2 538.8 307.5 539.0 309.7 539.3 316.2 539.5 303.9 539.7 309.7 540.0 314.8 540.2 308.2 540.5 303.9 540.7 309.1 540.9 312.4 541.2 301.2 541.4 306.5 541.6 307.4 541.9 305.2 542.1 315.6 542.3 308.7 542.6 309.0 542.8 301.0 543.0 310.2 543.3 310.2 543.5 312.9 543.7 311.0 544.0 308.9 544.2 307.4 544.4 308.9 544.7 301.6 544.9 306.6 545.1 306.1 545.4 303.6 545.6 306.0 545.8 309.8 546.1 313.2 546.3 306.9 546.5 310.8 546.8 303.6 547.0 310.5 547.2 315.3 547.5 307.8 547.7 304.4 547.9 308.7 548.2 307.4 548.4 307.5 548.6 302.3 548.9 307.0 549.1 308.1 549.3 310.0 549.6 313.4 549.8 303.3 550.0 304.2 550.3 311.1 550.5 306.0 550.7 306.9 551.0 309.2 551.2 309.0 551.4 305.5 551.7 312.0 551.9 309.7 552.1 308.2 552.4 308.0 552.6 308.7 552.9 307.3 553.1 306.2 553.3 310.9 553.6 307.7 553.8 309.7 554.0 303.0 554.3 312.6 554.5 308.8 554.7 305.7 555.0 308.9 555.2 309.1 555.4 309.8 555.7 306.9 555.9 311.8 556.1 308.2 556.4 308.3 556.6 312.8 556.8 307.0 557.1 309.5 557.3 306.9 557.5 305.1 557.8 306.8 558.0 311.8 558.2 306.9 558.5 313.4 558.7 310.7 558.9 302.7 559.2 308.3 559.4 303.2 559.6 309.1 559.9 308.5 560.1 312.3 560.3 305.6 560.6 309.4 560.8 306.8 561.0 307.5 561.3 307.3 561.5 308.0 561.7 309.3 562.0 309.2 562.2 311.6 562.4 316.3 562.7 307.9 562.9 302.7 563.1 306.1 563.4 302.1 563.6 308.2 563.8 313.0 564.1 313.1 564.3 307.5 564.5 308.9 564.8 310.7 565.0 307.8 565.3 313.1 565.5 308.7 565.7 311.3 566.0 310.0 566.2 306.7 566.4 311.1 566.7 306.3 566.9 306.5 567.1 313.3 567.4 303.5 567.6 315.0 567.8 311.5 568.1 308.8 568.3 318.6 568.5 308.1 568.8 307.8 569.0 311.9 569.2 310.7 569.5 311.0 569.7 312.4 569.9 308.4 570.2 313.1 570.4 312.2 570.6 310.9 570.9 309.5 571.1 308.8 571.3 317.1 571.6 318.9 571.8 313.0 572.0 312.8 572.3 316.1 572.5 311.8 572.7 310.9 573.0 311.7 573.2 307.8 573.4 316.4 573.7 313.1 573.9 307.2 574.1 311.2 574.4 317.0 574.6 312.9 574.8 309.9 575.1 307.1 575.3 311.7 575.5 310.2 575.8 317.4 576.0 314.8 576.2 310.3 576.5 317.2 576.7 314.5 576.9 320.2 577.2 309.8 577.4 314.9 577.7 312.8 577.9 319.4 578.1 318.9 578.4 309.2 578.6 316.0 578.8 316.7 579.1 313.5 579.3 313.5 579.5 321.4 579.8 318.4 580.0 315.3 580.2 315.5 580.5 314.5 580.7 317.0 580.9 316.6 581.2 315.2 581.4 318.1 581.6 318.6 581.9 317.8 582.1 316.1 582.3 316.7 582.6 317.8 582.8 317.2 583.0 316.7 583.3 315.6 583.5 315.6 583.7 320.7 584.0 313.8 584.2 321.7 584.4 315.2 584.7 319.0 584.9 315.1 585.1 313.7 585.4 322.7 585.6 315.2 585.8 316.3 586.1 318.5 586.3 316.0 586.5 318.7 586.8 316.9 587.0 320.5 587.2 315.0 587.5 315.6 587.7 315.2 587.9 319.4 588.2 312.0 588.4 311.6 588.6 317.9 588.9 318.9 589.1 318.9 589.3 315.6 589.6 314.7 589.8 320.0 590.1 323.9 590.3 316.5 590.5 318.0 590.8 317.4 591.0 316.5 591.2 321.4 591.5 317.9 591.7 319.0 591.9 317.0 592.2 314.6 592.4 318.3 592.6 320.8 592.9 314.6 593.1 316.3 593.3 319.0 593.6 323.8 593.8 321.1 594.0 318.3 594.3 317.2 594.5 320.6 594.7 317.9 595.0 321.2 595.2 320.7 595.4 318.1 595.7 320.6 595.9 319.5 596.1 317.5 596.4 316.9 596.6 322.1 596.8 321.3 597.1 324.6 597.3 324.7 597.5 320.1 597.8 322.7 598.0 326.7 598.2 319.9 598.5 324.1 598.7 322.7 598.9 320.7 599.2 320.9 599.4 322.4 599.6 328.2 599.9 320.9 600.1 324.4 600.3 327.0 600.6 329.4 600.8 319.4 601.0 322.9 601.3 323.2 601.5 321.9 601.7 324.0 602.0 328.2 602.2 322.1 602.5 321.4 602.7 322.9 602.9 320.1 603.2 319.2 603.4 327.1 603.6 326.3 603.9 322.6 604.1 324.8 604.3 324.8 604.6 322.9 604.8 323.6 605.0 327.1 605.3 325.7 605.5 328.2 605.7 326.9 606.0 329.6 606.2 332.2 606.4 328.2 606.7 328.6 606.9 324.6 607.1 322.8 607.4 327.3 607.6 326.2 607.8 329.4 608.1 330.4 608.3 328.7 608.5 328.8 608.8 327.2 609.0 327.8 609.2 323.6 609.5 329.0 609.7 333.1 609.9 328.2 610.2 330.5 610.4 328.2 610.6 325.7 610.9 330.7 611.1 329.3 611.3 327.7 611.6 331.9 611.8 328.7 612.0 327.9 612.3 327.3 612.5 326.6 612.7 328.2 613.0 328.8 613.2 333.8 613.4 337.4 613.7 332.8 613.9 326.3 614.1 330.0 614.4 336.6 614.6 331.7 614.9 329.6 615.1 335.2 615.3 328.0 615.6 332.1 615.8 325.6 616.0 327.8 616.3 319.1 616.5 330.4 616.7 325.5 617.0 329.7 617.2 322.0 617.4 324.8 617.7 322.6 617.9 324.7 618.1 328.2 618.4 326.7 618.6 328.3 618.8 327.7 619.1 324.4 619.3 321.9 619.5 322.4 619.8 323.3 620.0 326.2 620.2 323.2 620.5 326.9 620.7 324.0 620.9 322.2 621.2 325.0 621.4 326.0 621.6 326.5 621.9 324.3 622.1 327.4 622.3 331.0 622.6 328.9 622.8 331.2 623.0 324.9 623.3 329.5 623.5 334.2 623.7 330.0 624.0 329.4 624.2 330.9 624.4 333.1 624.7 331.9 624.9 331.7 625.1 329.9 625.4 331.8 625.6 326.9 625.8 333.7 626.1 329.2 626.3 333.5 626.5 338.3 626.8 337.0 627.0 339.0 627.3 338.9 627.5 331.1 627.7 336.3 628.0 333.1 628.2 337.3 628.4 335.1 628.7 338.1 628.9 333.1 629.1 336.3 629.4 337.0 629.6 336.4 629.8 330.2 630.1 335.1 630.3 334.2 630.5 340.0 630.8 338.6 631.0 336.2 631.2 342.2 631.5 333.7 631.7 336.8 631.9 337.7 632.2 338.4 632.4 338.6 632.6 339.5 632.9 334.4 633.1 336.4 633.3 335.0 633.6 339.2 633.8 340.8 634.0 334.8 634.3 341.8 634.5 340.3 634.7 336.8 635.0 335.8 635.2 342.3 635.4 339.6 635.7 338.8 635.9 339.3 636.1 341.4 636.4 337.3 636.6 340.6 636.8 339.9 637.1 345.3 637.3 339.6 637.5 344.6 637.8 337.6 638.0 338.2 638.2 341.0 638.5 339.2 638.7 339.4 638.9 340.2 639.2 338.9 639.4 340.2 639.6 341.2 639.9 342.2 640.1 335.6 640.4 339.6 640.6 340.3 640.8 338.3 641.1 341.4 641.3 341.4 641.5 338.7 641.8 337.8 642.0 338.8 642.2 344.6 642.5 340.5 642.7 340.8 642.9 339.6 643.2 343.3 643.4 343.8 643.6 341.3 643.9 343.5 644.1 344.0 644.3 341.4 644.6 338.8 644.8 341.0 645.0 338.4 645.3 344.1 645.5 339.6 645.7 341.6 646.0 344.0 646.2 342.8 646.4 344.0 646.7 342.4 646.9 343.9 647.1 338.6 647.4 343.0 647.6 345.8 647.8 342.6 648.1 341.2 648.3 343.1 648.5 340.0 648.8 344.8 649.0 344.7 649.2 338.2 649.5 342.5 649.7 341.2 649.9 341.4 650.2 341.2 650.4 342.7 650.6 343.4 650.9 340.0 651.1 344.2 651.3 342.7 651.6 341.2 651.8 344.1 652.0 347.1 652.3 341.9 652.5 340.3 652.8 342.5 653.0 347.6 653.2 341.5 653.5 338.1 653.7 347.4 653.9 350.5 654.2 344.0 654.4 343.2 654.6 341.4 654.9 341.3 655.1 343.2 655.3 342.1 655.6 342.7 655.8 343.3 656.0 343.8 656.3 344.0 656.5 341.8 656.7 342.6 657.0 344.9 657.2 340.9 657.4 345.7 657.7 344.4 657.9 343.5 658.1 348.9 658.4 344.9 658.6 341.7 658.8 341.9 659.1 347.2 659.3 346.2 659.5 346.9 659.8 344.8 660.0 344.3 660.2 348.4 660.5 343.4 660.7 344.1 660.9 344.5 661.2 346.1 661.4 344.8 661.6 349.0 661.9 343.8 662.1 343.9 662.3 344.8 662.6 347.6 662.8 341.2 663.0 341.6 663.3 349.5 663.5 343.6 663.7 344.3 664.0 351.4 664.2 343.4 664.4 343.1 664.7 343.0 664.9 344.4 665.2 346.6 665.4 346.3 665.6 343.6 665.9 341.9 666.1 346.3 666.3 345.8 666.6 343.3 666.8 350.7 667.0 344.0 667.3 345.8 667.5 350.9 667.7 343.2 668.0 347.7 668.2 343.3 668.4 341.8 668.7 348.6 668.9 348.5 669.1 345.5 669.4 350.0 669.6 343.6 669.8 345.1 670.1 343.0 670.3 350.4 670.5 345.1 670.8 344.5 671.0 350.4 671.2 343.5 671.5 349.4 671.7 345.4 671.9 349.3 672.2 343.9 672.4 341.5 672.6 345.8 672.9 346.0 673.1 342.7 673.3 347.3 673.6 346.0 673.8 344.1 674.0 345.1 674.3 342.2 674.5 343.2 674.7 341.3 675.0 346.4 675.2 343.5 675.4 348.5 675.7 344.1 675.9 341.9 676.1 340.4 676.4 349.8 676.6 347.0 676.8 344.7 677.1 348.9 677.3 345.2 677.6 345.3 677.8 348.0 678.0 348.2 678.3 349.2 678.5 346.1 678.7 343.6 679.0 346.2 679.2 339.8 679.4 350.9 679.7 348.6 679.9 345.4 680.1 350.1 680.4 346.3 680.6 345.1 680.8 346.8 681.1 347.9 681.3 344.9 681.5 346.3 681.8 345.6 682.0 346.1 682.2 349.3 682.5 350.4 682.7 348.6 682.9 347.2 683.2 348.2 683.4 345.3 683.6 347.1 683.9 345.3 684.1 347.6 684.3 349.8 684.6 345.8 684.8 346.7 685.0 350.2 685.3 349.2 685.5 340.9 685.7 356.4 686.0 345.3 686.2 348.2 686.4 348.6 686.7 349.2 686.9 349.8 687.1 342.4 687.4 349.8 687.6 349.5 687.8 346.6 688.1 347.8 688.3 349.3 688.5 349.6 688.8 352.4 689.0 346.2 689.2 351.8 689.5 355.4 689.7 346.4 690.0 347.3 690.2 348.4 690.4 350.7 690.7 346.3 690.9 352.3 691.1 355.2 691.4 349.2 691.6 347.5 691.8 348.1 692.1 344.3 692.3 347.6 692.5 350.4 692.8 350.4 693.0 347.6 693.2 350.2 693.5 350.4 693.7 354.7 693.9 351.0 694.2 353.6 694.4 349.7 694.6 350.0 694.9 348.5 695.1 345.7 695.3 351.0 695.6 346.8 695.8 353.5 696.0 350.2 696.3 348.2 696.5 345.6 696.7 353.7 697.0 351.5 697.2 350.5 697.4 351.2 697.7 353.5 697.9 355.3 698.1 354.3 698.4 351.4 698.6 354.7 698.8 346.6 699.1 348.1 699.3 356.4 699.5 352.7 699.8 348.0 700.0 347.7 700.2 348.6 700.5 355.4 700.7 352.6 700.9 348.4 701.2 351.5 701.4 353.0 701.6 350.6 701.9 349.3 702.1 351.6 702.4 351.4 702.6 349.3 702.8 353.6 703.1 354.6 703.3 350.2 703.5 355.4 703.8 351.0 704.0 354.3 704.2 350.2 704.5 355.6 704.7 349.5 704.9 351.8 705.2 353.4 705.4 354.9 705.6 353.1 705.9 355.2 706.1 355.9 706.3 350.0 706.6 351.3 706.8 349.7 707.0 356.5 707.3 358.2 707.5 357.3 707.7 351.4 708.0 351.1 708.2 358.1 708.4 350.6 708.7 354.5 708.9 356.5 709.1 353.7 709.4 352.0 709.6 354.1 709.8 354.1 710.1 355.9 710.3 357.4 710.5 354.7 710.8 358.1 711.0 352.3 711.2 356.1 711.5 350.5 711.7 358.2 711.9 350.4 712.2 356.4 712.4 356.5 712.6 353.4 712.9 351.9 713.1 354.4 713.3 355.3 713.6 349.2 713.8 353.1 714.0 357.6 714.3 355.2 714.5 350.1 714.8 353.8 715.0 352.5 715.2 349.4 715.5 356.3 715.7 353.8 715.9 356.6 716.2 354.9 716.4 353.5 716.6 358.5 716.9 354.7 717.1 354.7 717.3 352.4 717.6 356.8 717.8 358.6 718.0 354.4 718.3 358.4 718.5 355.1 718.7 354.2 719.0 358.0 719.2 356.1 719.4 358.6 719.7 363.4 719.9 359.9 720.1 361.6 720.4 356.2 720.6 359.1 720.8 356.8 721.1 356.6 721.3 353.8 721.5 357.5 721.8 357.8 722.0 355.5 722.2 352.7 722.5 357.2 722.7 356.2 722.9 357.6 723.2 359.0 723.4 361.3 723.6 357.6 723.9 358.1 724.1 358.2 724.3 352.4 724.6 358.6 724.8 356.9 725.0 358.8 725.3 354.8 725.5 358.8 725.7 353.2 726.0 358.9 726.2 356.2 726.4 355.7 726.7 359.0 726.9 356.3 727.2 358.4 727.4 360.6 727.6 360.5 727.9 357.9 728.1 354.2 728.3 360.2 728.6 357.6 728.8 361.2 729.0 358.5 729.3 362.7 729.5 361.4 729.7 359.5 730.0 361.5 730.2 360.3 730.4 357.1 730.7 360.1 730.9 361.7 731.1 363.1 731.4 361.4 731.6 357.1 731.8 360.4 732.1 360.7 732.3 358.5 732.5 358.3 732.8 357.9 733.0 361.5" stroke="#0000ff"/>
<path d="M206.6 250.7 206.8 264.3 207.1 254.4 207.3 261.3 207.5 263.6 207.8 264.4 208.0 273.9 208.2 268.1 208.5 272.6 208.7 258.0 208.9 271.6 209.2 274.6 209.4 274.9 209.6 277.1 209.9 279.2 210.1 277.0 210.3 273.8 210.6 277.4 210.8 272.9 211.0 278.3 211.3 277.9 211.5 272.0 211.7 276.8 212.0 281.8 212.2 281.0 212.4 278.5 212.7 272.6 212.9 282.1 213.1 282.1 213.4 276.9 213.6 285.1 213.8 282.7 214.1 277.8 214.3 279.2 214.5 281.4 214.8 279.0 215.0 294.1 215.2 277.7 215.5 286.3 215.7 289.4 215.9 281.2 216.2 279.5 216.4 284.5 216.7 287.4 216.9 282.7 217.1 283.2 217.4 277.0 217.6 280.0 217.8 282.4 218.1 278.6 218.3 284.4 218.5 287.5 218.8 281.0 219.0 281.0 219.2 284.5 219.5 286.9 219.7 282.6 219.9 294.3 220.2 280.6 220.4 281.5 220.6 290.7 220.9 283.4 221.1 287.8 221.3 280.4 221.6 292.5 221.8 287.7 222.0 280.7 222.3 278.7 222.5 293.1 222.7 285.9 223.0 282.4 223.2 286.4 223.4 276.9 223.7 289.0 223.9 282.3 224.1 288.4 224.4 277.8 224.6 284.0 224.8 285.5 225.1 291.3 225.3 276.6 225.5 280.7 225.8 280.7 226.0 279.0 226.2 282.4 226.5 286.8 226.7 287.5 226.9 287.5 227.2 278.1 227.4 290.4 227.6 286.6 227.9 285.5 228.1 283.1 228.3 281.6 228.6 289.5 228.8 291.7 229.1 284.1 229.3 278.8 229.5 280.8 229.8 283.2 230.0 285.6 230.2 282.9 230.5 285.2 230.7 280.5 230.9 287.5 231.2 283.4 231.4 284.5 231.6 281.6 231.9 282.9 232.1 272.7 232.3 277.3 232.6 277.3 232.8 292.7 233.0 285.3 233.3 286.4 233.5 281.4 233.7 293.7 234.0 278.5 234.2 278.9 234.4 289.3 234.7 287.8 234.9 287.0 235.1 283.3 235.4 280.6 235.6 274.4 235.8 284.3 236.1 280.0 236.3 282.6 236.5 275.5 236.8 280.0 237.0 277.2 237.2 287.9 237.5 284.0 237.7 286.7 237.9 276.5 238.2 280.2 238.4 284.4 238.6 285.0 238.9 280.8 239.1 286.0 239.3 287.0 239.6 280.7 239.8 271.9 240.0 283.9 240.3 285.2 240.5 287.9 240.7 288.6 241.0 280.4 241.2 278.9 241.5 282.6 241.7 281.1 241.9 282.0 242.2 281.9 242.4 289.3 242.6 284.5 242.9 281.9 243.1 285.9 243.3 284.5 243.6 286.0 243.8 283.8 244.0 278.5 244.3 284.0 244.5 282.9 244.7 278.5 245.0 279.3 245.2 274.6 245.4 291.4 245.7 278.2 245.9 284.2 246.1 281.4 246.4 278.2 246.6 277.1 246.8 277.2 247.1 281.2 247.3 274.6 247.5 283.1 247.8 282.4 248.0 278.1 248.2 284.2 248.5 272.0 248.7 277.1 248.9 271.9 249.2 281.7 249.4 283.2 249.6 280.8 249.9 278.2 250.1 284.1 250.3 279.7 250.6 281.5 250.8 274.1 251.0 284.3 251.3 276.6 251.5 284.2 251.7 285.6 252.0 284.4 252.2 286.5 252.4 280.5 252.7 276.5 252.9 280.4 253.1 278.3 253.4 273.7 253.6 279.8 253.8 280.1 254.1 282.2 254.3 288.2 254.6 277.5 254.8 288.8 255.0 277.9 255.3 280.9 255.5 275.7 255.7 281.1 256.0 284.5 256.2 279.1 256.4 283.2 256.7 281.5 256.9 280.5 257.1 281.2 257.4 281.5 257.6 284.3 257.8 281.4 258.1 290.2 258.3 281.2 258.5 285.9 258.8 275.4 259.0 274.7 259.2 289.2 259.5 279.7 259.7 280.9 259.9 285.1 260.2 277.9 260.4 282.4 260.6 288.3 260.9 281.4 261.1 280.8 261.3 279.7 261.6 285.7 261.8 277.3 262.0 276.7 262.3 285.3 262.5 283.0 262.7 280.3 263.0 282.5 263.2 272.0 263.4 279.0 263.7 284.5 263.9 283.4 264.1 280.1 264.4 269.3 264.6 280.6 264.8 279.2 265.1 277.4 265.3 279.9 265.5 269.2 265.8 282.1 266.0 276.2 266.2 278.8 266.5 276.7 266.7 284.9 267.0 271.4 267.2 280.0 267.4 279.3 267.7 283.7 267.9 282.7 268.1 276.5 268.4 274.4 268.6 275.2 268.8 272.9 269.1 275.0 269.3 278.0 269.5 274.1 269.8 275.0 270.0 278.0 270.2 274.0 270.5 271.2 270.7 275.8 270.9 278.3 271.2 273.2 271.4 267.5 271.6 277.1 271.9 276.3 272.1 276.3 272.3 269.9 272.6 283.8 272.8 273.4 273.0 269.4 273.3 278.5 273.5 267.6 273.7 271.8 274.0 276.6 274.2 273.0 274.4 280.8 274.7 276.1 274.9 264.8 275.1 277.2 275.4 264.4 275.6 273.1 275.8 267.9 276.1 272.1 276.3 282.5 276.5 274.6 276.8 270.8 277.0 276.9 277.2 277.6 277.5 269.5 277.7 274.0 277.9 278.7 278.2 273.8 278.4 266.5 278.6 272.5 278.9 265.8 279.1 262.9 279.4 269.6 279.6 274.8 279.8 275.4 280.1 269.4 280.3 265.0 280.5 267.7 280.8 266.2 281.0 270.6 281.2 267.0 281.5 270.3 281.7 269.5 281.9 273.7 282.2 274.8 282.4 269.7 282.6 272.3 282.9 271.5 283.1 263.9 283.3 267.2 283.6 253.4 283.8 262.2 284.0 269.1 284.3 262.5 284.5 264.3 284.7 268.8 285.0 260.5 285.2 268.8 285.4 278.7 285.7 261.4 285.9 267.5 286.1 257.8 286.4 267.1 286.6 269.2 286.8 256.8 287.1 268.3 287.3 262.3 287.5 256.5 287.8 262.2 288.0 262.8 288.2 261.7 288.5 258.2 288.7 265.3 288.9 258.7 289.2 258.6 289.4 250.6 289.6 262.2 289.9 264.5 290.1 256.9 290.3 261.7 290.6 258.4 290.8 258.8 291.0 254.0 291.3 261.8 291.5 259.1 291.8 269.7 292.0 262.1 292.2 251.2 292.5 260.7 292.7 260.5 292.9 262.5 293.2 254.4 293.4 255.9 293.6 261.6 293.9 253.2 294.1 254.8 294.3 252.4 294.6 258.2 294.8 247.5 295.0 253.1 295.3 255.1 295.5 256.6 295.7 255.1 296.0 250.0 296.2 254.7 296.4 248.6 296.7 250.4 296.9 246.9 297.1 248.9 297.4 252.4 297.6 260.1 297.8 250.3 298.1 247.9 298.3 250.4 298.5 248.4 298.8 252.6 299.0 251.9 299.2 254.0 299.5 243.9 299.7 248.8 299.9 251.3 300.2 254.6 300.4 249.3 300.6 242.2 300.9 246.1 301.1 250.9 301.3 241.5 301.6 241.2 301.8 242.9 302.0 243.4 302.3 241.6 302.5 243.9 302.7 242.7 303.0 249.0 303.2 239.1 303.4 244.2 303.7 236.5 303.9 253.4 304.2 241.7 304.4 240.3 304.6 245.7 304.9 242.2 305.1 240.7 305.3 241.3 305.6 245.8 305.8 243.9 306.0 238.9 306.3 237.6 306.5 242.4 306.7 242.3 307.0 241.6 307.2 237.9 307.4 246.4 307.7 247.4 307.9 241.1 308.1 246.1 308.4 243.7 308.6 240.7 308.8 238.9 309.1 245.1 309.3 237.2 309.5 247.7 309.8 237.9 310.0 246.5 310.2 245.1 310.5 237.0 310.7 241.2 310.9 242.6 311.2 241.0 311.4 237.1 311.6 239.1 311.9 238.8 312.1 234.2 312.3 241.3 312.6 240.1 312.8 240.2 313.0 233.0 313.3 233.6 313.5 232.2 313.7 237.5 314.0 237.9 314.2 233.5 314.4 238.5 314.7 233.3 314.9 233.5 315.1 239.3 315.4 236.6 315.6 236.6 315.8 228.6 316.1 224.8 316.3 236.0 316.6 235.4 316.8 245.0 317.0 234.2 317.3 235.0 317.5 239.4 317.7 231.3 318.0 241.2 318.2 235.2 318.4 233.5 318.7 239.4 318.9 230.1 319.1 229.1 319.4 239.5 319.6 239.4 319.8 230.6 320.1 233.1 320.3 238.0 320.5 233.8 320.8 232.8 321.0 232.7 321.2 228.2 321.5 229.9 321.7 223.5 321.9 225.0 322.2 227.9 322.4 225.9 322.6 224.5 322.9 227.0 323.1 235.3 323.3 225.8 323.6 229.1 323.8 222.0 324.0 228.5 324.3 226.4 324.5 227.0 324.7 220.7 325.0 227.2 325.2 229.0 325.4 226.1 325.7 229.3 325.9 226.3 326.1 226.8 326.4 225.3 326.6 217.6 326.8 227.9 327.1 225.7 327.3 226.5 327.5 222.3 327.8 230.5 328.0 228.1 328.2 224.8 328.5 221.9 328.7 224.4 329.0 226.2 329.2 227.7 329.4 221.1 329.7 216.6 329.9 221.7 330.1 222.2 330.4 220.9 330.6 227.2 330.8 224.1 331.1 223.8 331.3 221.0 331.5 222.4 331.8 227.9 332.0 216.7 332.2 213.9 332.5 223.0 332.7 219.7 332.9 220.2 333.2 217.6 333.4 228.3 333.6 213.4 333.9 223.2 334.1 214.8 334.3 220.3 334.6 222.4 334.8 221.1 335.0 216.0 335.3 224.3 335.5 221.6 335.7 221.8 336.0 227.4 336.2 212.5 336.4 215.6 336.7 218.2 336.9 212.1 337.1 222.1 337.4 217.4 337.6 208.3 337.8 211.5 338.1 226.9 338.3 230.4 338.5 220.4 338.8 209.7 339.0 216.9 339.2 215.3 339.5 210.9 339.7 218.0 339.9 212.2 340.2 209.1 340.4 210.4 340.6 210.6 340.9 215.3 341.1 209.5 341.4 214.0 341.6 205.1 341.8 198.5 342.1 214.9 342.3 222.0 342.5 212.9 342.8 208.7 343.0 205.0 343.2 204.6 343.5 213.9 343.7 213.7 343.9 203.0 344.2 214.8 344.4 203.4 344.6 209.9 344.9 204.6 345.1 204.7 345.3 204.1 345.6 203.7 345.8 212.8 346.0 205.9 346.3 207.2 346.5 205.4 346.7 200.4 347.0 208.0 347.2 210.0 347.4 209.9 347.7 207.5 347.9 201.8 348.1 209.7 348.4 199.2 348.6 203.5 348.8 206.0 349.1 211.6 349.3 203.1 349.5 200.6 349.8 213.5 350.0 197.8 350.2 195.3 350.5 202.1 350.7 201.2 350.9 190.9 351.2 197.1 351.4 208.3 351.6 203.5 351.9 204.2 352.1 204.1 352.3 215.8 352.6 199.0 352.8 206.4 353.0 202.0 353.3 203.5 353.5 198.0 353.8 204.2 354.0 206.8 354.2 199.6 354.5 194.8 354.7 204.0 354.9 194.8 355.2 200.7 355.4 204.9 355.6 193.6 355.9 206.2 356.1 196.2 356.3 204.3 356.6 199.1 356.8 208.2 357.0 205.9 357.3 195.4 357.5 200.1 357.7 200.9 358.0 203.4 358.2 198.4 358.4 208.5 358.7 206.9 358.9 201.5 359.1 205.1 359.4 204.3 359.6 200.7 359.8 201.0 360.1 201.4 360.3 190.9 360.5 194.4 360.8 193.2 361.0 200.1 361.2 202.7 361.5 208.0 361.7 201.7 361.9 211.4 362.2 202.9 362.4 195.3 362.6 190.4 362.9 194.0 363.1 204.3 363.3 196.6 363.6 203.7 363.8 194.6 364.0 199.8 364.3 194.2 364.5 184.4 364.7 193.7 365.0 185.6 365.2 197.8 365.4 200.7 365.7 191.1 365.9 188.8 366.2 201.8 366.4 198.1 366.6 206.7 366.9 199.6 367.1 193.3 367.3 198.8 367.6 201.5 367.8 206.3 368.0 196.0 368.3 193.5 368.5 194.6 368.7 196.5 369.0 205.3 369.2 187.6 369.4 198.1 369.7 198.5 369.9 193.4 370.1 210.2 370.4 197.9 370.6 198.3 370.8 195.2 371.1 189.4 371.3 194.5 371.5 207.9 371.8 199.1 372.0 195.8 372.2 196.1 372.5 204.5 372.7 206.7 372.9 193.5 373.2 194.7 373.4 196.8 373.6 206.8 373.9 186.0 374.1 213.7 374.3 198.5 374.6 183.8 374.8 197.2 375.0 194.8 375.3 203.1 375.5 187.9 375.7 203.7 376.0 194.4 376.2 195.0 376.4 202.1 376.7 190.4 376.9 204.1 377.1 199.6 377.4 195.6 377.6 197.8 377.8 192.4 378.1 189.5 378.3 196.7 378.6 198.0 378.8 197.7 379.0 196.7 379.3 189.6 379.5 195.5 379.7 191.7 380.0 194.5 380.2 198.9 380.4 188.6 380.7 199.7 380.9 193.4 381.1 184.5 381.4 199.6 381.6 193.3 381.8 202.3 382.1 179.8 382.3 201.8 382.5 195.3 382.8 196.6 383.0 192.9 383.2 184.5 383.5 192.4 383.7 190.5 383.9 194.9 384.2 196.2 384.4 199.9 384.6 205.8 384.9 195.1 385.1 186.1 385.3 193.1 385.6 199.3 385.8 187.1 386.0 199.9 386.3 201.5 386.5 205.6 386.7 204.7 387.0 201.1 387.2 188.6 387.4 202.0 387.7 207.4 387.9 205.5 388.1 203.8 388.4 213.1 388.6 203.0 388.8 200.2 389.1 203.0 389.3 202.0 389.5 213.5 389.8 216.4 390.0 199.7 390.2 201.4 390.5 217.0 390.7 207.3 391.0 208.7 391.2 206.1 391.4 208.4 391.7 212.8 391.9 209.2 392.1 209.7 392.4 211.3 392.6 222.0 392.8 228.9 393.1 216.6 393.3 221.8 393.5 211.4 393.8 209.1 394.0 212.0 394.2 216.0 394.5 213.9 394.7 208.0 394.9 219.1 395.2 210.0 395.4 211.5 395.6 214.3 395.9 207.8 396.1 220.3 396.3 211.2 396.6 222.0 396.8 221.3 397.0 223.2 397.3 215.0 397.5 223.0 397.7 217.8 398.0 224.6 398.2 212.6 398.4 208.6 398.7 217.8 398.9 210.2 399.1 216.5 399.4 207.9 399.6 219.5 399.8 229.0 400.1 212.4 400.3 221.6 400.5 226.8 400.8 225.0 401.0 230.5 401.2 222.8 401.5 228.0 401.7 214.3 401.9 219.1 402.2 231.9 402.4 231.3 402.6 226.5 402.9 234.0 403.1 224.5 403.4 224.4 403.6 228.6 403.8 227.6 404.1 222.3 404.3 217.7 404.5 217.7 404.8 225.8 405.0 221.7 405.2 230.5 405.5 224.7 405.7 232.3 405.9 223.7 406.2 234.4 406.4 233.3 406.6 228.6 406.9 225.9 407.1 236.7 407.3 232.3 407.6 229.1 407.8 229.0 408.0 234.8 408.3 230.3 408.5 232.5 408.7 224.2 409.0 228.9 409.2 238.9 409.4 243.7 409.7 232.2 409.9 227.0 410.1 232.5 410.4 229.2 410.6 236.5 410.8 241.3 411.1 230.9 411.3 234.5 411.5 231.9 411.8 242.6 412.0 235.1 412.2 239.4 412.5 232.6 412.7 239.8 412.9 240.3 413.2 240.5 413.4 231.5 413.6 238.0 413.9 242.2 414.1 243.8 414.3 244.1 414.6 232.1 414.8 248.5 415.0 244.0 415.3 237.0 415.5 234.7 415.8 241.5 416.0 237.2 416.2 237.6 416.5 236.8 416.7 241.7 416.9 234.2 417.2 241.4 417.4 235.3 417.6 248.3 417.9 238.8 418.1 249.6 418.3 251.0 418.6 241.7 418.8 248.3 419.0 242.5 419.3 250.0 419.5 237.6 419.7 245.5 420.0 251.1 420.2 245.3 420.4 242.2 420.7 250.3 420.9 244.5 421.1 237.7 421.4 243.5 421.6 247.8 421.8 250.6 422.1 245.5 422.3 255.4 422.5 262.7 422.8 251.9 423.0 254.0 423.2 241.3 423.5 248.8 423.7 254.2 423.9 255.2 424.2 247.8 424.4 254.1 424.6 253.2 424.9 251.2 425.1 250.6 425.3 250.7 425.6 250.9 425.8 245.8 426.0 244.2 426.3 259.4 426.5 240.7 426.7 251.9 427.0 247.1 427.2 256.1 427.4 251.6 427.7 252.4 427.9 253.0 428.2 250.0 428.4 251.2 428.6 258.6 428.9 254.9 429.1 251.4 429.3 251.8 429.6 256.5 429.8 256.5 430.0 256.1 430.3 260.5 430.5 261.5 430.7 249.6 431.0 258.6 431.2 257.0 431.4 261.2 431.7 252.8 431.9 251.3 432.1 260.4 432.4 257.7 432.6 263.8 432.8 253.3 433.1 257.5 433.3 265.7 433.5 257.1 433.8 261.5 434.0 261.8 434.2 262.5 434.5 267.5 434.7 267.4 434.9 262.9 435.2 266.3 435.4 270.7 435.6 258.4 435.9 268.6 436.1 270.6 436.3 271.7 436.6 266.2 436.8 265.5 437.0 269.2 437.3 266.8 437.5 277.4 437.7 272.8 438.0 273.6 438.2 271.9 438.4 270.2 438.7 281.4 438.9 260.3 439.1 277.0 439.4 272.1 439.6 270.4 439.8 270.6 440.1 273.6 440.3 287.5 440.5 280.0 440.8 272.4 441.0 280.0 441.3 280.9 441.5 286.8 441.7 271.8 442.0 275.2 442.2 281.6 442.4 278.6 442.7 278.8 442.9 283.5 443.1 280.3 443.4 278.4 443.6 277.4 443.8 274.7 444.1 280.4 444.3 282.7 444.5 279.2 444.8 283.8 445.0 286.6 445.2 276.6 445.5 283.3 445.7 281.3 445.9 279.3 446.2 286.9 446.4 279.6 446.6 280.6 446.9 283.2 447.1 281.2 447.3 286.3 447.6 292.7 447.8 284.7 448.0 287.5 448.3 280.1 448.5 282.9 448.7 286.4 449.0 284.2 449.2 278.8 449.4 279.9 449.7 283.3 449.9 283.2 450.1 286.4 450.4 286.0 450.6 283.1 450.8 286.3 451.1 284.7 451.3 290.9 451.5 293.3 451.8 293.6 452.0 288.3 452.2 281.0 452.5 281.7 452.7 291.0 452.9 293.5 453.2 283.7 453.4 285.2 453.7 293.1 453.9 282.9 454.1 286.8 454.4 282.0 454.6 286.3 454.8 284.1 455.1 286.6 455.3 292.1 455.5 289.2 455.8 291.1 456.0 284.9 456.2 292.7 456.5 295.1 456.7 285.9 456.9 284.0 457.2 282.9 457.4 284.5 457.6 295.5 457.9 292.2 458.1 291.7 458.3 289.6 458.6 298.7 458.8 289.9 459.0 288.9 459.3 294.3 459.5 290.0 459.7 285.7 460.0 290.7 460.2 286.7 460.4 287.1 460.7 289.8 460.9 290.1 461.1 293.5 461.4 287.0 461.6 294.3 461.8 295.5 462.1 289.8 462.3 296.0 462.5 291.4 462.8 289.0 463.0 293.2 463.2 293.3 463.5 290.2 463.7 291.1 463.9 300.8 464.2 300.1 464.4 289.3 464.6 293.4 464.9 303.9 465.1 301.0 465.3 295.5 465.6 299.9 465.8 294.0 466.1 295.8 466.3 294.3 466.5 301.4 466.8 294.1 467.0 288.7 467.2 300.3 467.5 291.8 467.7 293.3 467.9 294.9 468.2 298.0 468.4 302.7 468.6 301.7 468.9 295.1 469.1 294.4 469.3 293.6 469.6 294.9 469.8 295.3 470.0 301.0 470.3 304.3 470.5 298.7 470.7 297.6 471.0 299.5 471.2 306.3 471.4 302.4 471.7 306.5 471.9 300.0 472.1 305.1 472.4 301.6 472.6 299.8 472.8 300.6 473.1 295.7 473.3 305.9 473.5 310.4 473.8 297.6 474.0 295.8 474.2 295.8 474.5 300.5 474.7 299.6 474.9 301.3 475.2 307.2 475.4 304.3 475.6 300.0 475.9 304.5 476.1 294.4 476.3 308.6 476.6 304.1 476.8 297.9 477.0 305.0 477.3 307.2 477.5 308.2 477.7 305.7 478.0 296.6 478.2 301.2 478.5 300.8 478.7 305.1 478.9 299.6 479.2 302.7 479.4 306.9 479.6 305.1 479.9 302.6 480.1 298.9 480.3 304.3 480.6 302.3 480.8 296.4 481.0 308.1 481.3 310.2 481.5 301.5 481.7 304.0 482.0 306.4 482.2 305.3 482.4 308.0 482.7 304.8 482.9 308.6 483.1 304.2 483.4 312.5 483.6 311.3 483.8 307.6 484.1 310.0 484.3 305.3 484.5 308.4 484.8 310.5 485.0 307.5 485.2 310.6 485.5 314.8 485.7 313.2 485.9 311.9 486.2 310.6 486.4 308.4 486.6 305.2 486.9 306.7 487.1 301.8 487.3 303.9 487.6 309.9 487.8 302.5 488.0 304.5 488.3 311.2 488.5 308.1 488.7 305.0 489.0 308.6 489.2 305.5 489.4 308.1 489.7 306.9 489.9 311.1 490.1 308.3 490.4 311.4 490.6 307.3 490.9 316.9 491.1 308.8 491.3 305.2 491.6 307.9 491.8 310.5 492.0 308.3 492.3 313.9 492.5 313.9 492.7 312.1 493.0 311.3 493.2 306.9 493.4 314.5 493.7 306.9 493.9 317.3 494.1 314.2 494.4 311.3 494.6 306.5 494.8 313.8 495.1 320.0 495.3 309.7 495.5 311.6 495.8 315.9 496.0 315.8 496.2 314.5 496.5 311.4 496.7 309.2 496.9 317.9 497.2 302.8 497.4 312.2 497.6 313.6 497.9 309.5 498.1 311.8 498.3 302.9 498.6 308.0 498.8 314.0 499.0 314.1 499.3 314.6 499.5 314.1 499.7 310.1 500.0 315.4 500.2 306.4 500.4 313.3 500.7 313.6 500.9 309.3 501.1 321.1 501.4 317.0 501.6 310.9 501.8 313.4 502.1 313.5 502.3 312.0 502.5 316.0 502.8 314.4 503.0 319.2 503.3 321.3 503.5 308.8 503.7 317.7 504.0 316.9 504.2 308.5 504.4 309.9 504.7 316.3 504.9 316.3 505.1 314.6 505.4 318.1 505.6 312.2 505.8 313.8 506.1 313.9 506.3 311.5 506.5 311.7 506.8 307.2 507.0 308.6 507.2 321.5 507.5 311.2 507.7 319.2 507.9 320.5 508.2 312.0 508.4 317.7 508.6 316.2 508.9 310.7 509.1 317.7 509.3 318.7 509.6 313.8 509.8 310.3 510.0 313.1 510.3 321.5 510.5 317.9 510.7 316.0 511.0 307.7 511.2 311.9 511.4 312.1 511.7 310.8 511.9 316.8 512.1 313.7 512.4 313.8 512.6 319.6 512.8 315.9 513.1 313.6 513.3 320.2 513.5 312.7 513.8 313.0 514.0 311.9 514.2 319.1 514.5 315.7 514.7 310.4 514.9 313.1 515.2 319.4 515.4 315.4 515.7 310.7 515.9 316.7 516.1 314.9 516.4 306.3 516.6 316.7 516.8 317.0 517.1 320.6 517.3 319.3 517.5 310.8 517.8 317.3 518.0 321.5 518.2 320.5 518.5 316.9 518.7 313.9 518.9 319.9 519.2 314.2 519.4 319.0 519.6 315.8 519.9 315.2 520.1 314.9 520.3 319.0 520.6 318.0 520.8 315.4 521.0 322.6 521.3 316.8 521.5 315.5 521.7 313.4 522.0 317.7 522.2 318.3 522.4 317.0 522.7 320.4 522.9 318.3 523.1 315.9 523.4 316.4 523.6 321.6 523.8 318.8 524.1 325.8 524.3 314.3 524.5 319.6 524.8 316.5 525.0 321.8 525.2 317.8 525.5 315.7 525.7 313.6 525.9 322.8 526.2 314.1 526.4 318.1 526.6 320.4 526.9 315.5 527.1 318.5 527.3 318.5 527.6 320.1 527.8 316.5 528.1 317.2 528.3 318.0 528.5 321.1 528.8 319.3 529.0 315.7 529.2 312.3 529.5 317.4 529.7 311.7 529.9 317.3 530.2 321.5 530.4 314.8 530.6 321.0 530.9 315.7 531.1 313.0 531.3 318.4 531.6 317.5 531.8 307.5 532.0 316.2 532.3 316.1 532.5 314.1 532.7 317.5 533.0 317.5 533.2 315.6 533.4 326.4 533.7 311.6 533.9 321.2 534.1 321.3 534.4 314.9 534.6 316.9 534.8 321.9 535.1 316.2 535.3 321.4 535.5 319.7 535.8 322.8 536.0 320.2 536.2 315.4 536.5 316.5 536.7 315.8 536.9 313.4 537.2 317.1 537.4 319.5 537.6 318.0 537.9 310.5 538.1 316.8 538.3 315.7 538.6 317.3 538.8 316.0 539.0 315.2 539.3 316.9 539.5 317.5 539.7 319.9 540.0 320.2 540.2 315.3 540.5 314.0 540.7 313.3 540.9 316.7 541.2 320.1 541.4 314.4 541.6 314.5 541.9 322.7 542.1 313.7 542.3 314.6 542.6 310.4 542.8 321.2 543.0 321.8 543.3 313.8 543.5 323.7 543.7 319.6 544.0 321.0 544.2 320.7 544.4 324.1 544.7 317.7 544.9 313.0 545.1 315.1 545.4 315.0 545.6 318.1 545.8 311.2 546.1 314.7 546.3 312.7 546.5 322.7 546.8 315.4 547.0 321.1 547.2 315.4 547.5 316.0 547.7 321.1 547.9 316.2 548.2 312.4 548.4 315.0 548.6 314.7 548.9 320.3 549.1 319.6 549.3 321.3 549.6 316.6 549.8 312.6 550.0 315.5 550.3 317.2 550.5 321.6 550.7 315.6 551.0 318.3 551.2 324.7 551.4 324.0 551.7 318.8 551.9 320.9 552.1 311.2 552.4 317.5 552.6 321.6 552.9 319.5 553.1 311.6 553.3 321.4 553.6 314.8 553.8 316.2 554.0 312.3 554.3 315.9 554.5 319.5 554.7 316.0 555.0 317.8 555.2 314.4 555.4 318.3 555.7 310.6 555.9 318.6 556.1 316.5 556.4 320.8 556.6 317.8 556.8 318.2 557.1 317.7 557.3 315.0 557.5 320.5 557.8 321.7 558.0 314.3 558.2 319.7 558.5 321.1 558.7 314.3 558.9 315.8 559.2 328.7 559.4 320.2 559.6 315.9 559.9 315.8 560.1 320.9 560.3 313.2 560.6 322.0 560.8 320.0 561.0 318.7 561.3 319.2 561.5 316.3 561.7 315.5 562.0 319.5 562.2 314.2 562.4 321.9 562.7 320.3 562.9 313.2 563.1 319.2 563.4 315.7 563.6 321.2 563.8 320.7 564.1 320.2 564.3 319.2 564.5 321.1 564.8 319.8 565.0 317.5 565.3 315.7 565.5 319.7 565.7 317.8 566.0 316.9 566.2 324.0 566.4 325.8 566.7 314.6 566.9 315.7 567.1 320.2 567.4 319.2 567.6 323.8 567.8 325.4 568.1 319.5 568.3 325.9 568.5 317.5 568.8 323.1 569.0 319.8 569.2 314.1 569.5 314.3 569.7 321.9 569.9 317.3 570.2 324.6 570.4 323.1 570.6 319.9 570.9 316.4 571.1 323.2 571.3 319.5 571.6 321.0 571.8 325.8 572.0 322.0 572.3 316.5 572.5 322.0 572.7 320.0 573.0 319.0 573.2 324.3 573.4 317.8 573.7 316.9 573.9 316.7 574.1 317.7 574.4 323.8 574.6 324.2 574.8 325.0 575.1 325.4 575.3 325.1 575.5 319.3 575.8 317.8 576.0 324.8 576.2 320.1 576.5 327.0 576.7 324.0 576.9 326.3 577.2 328.4 577.4 323.0 577.7 322.9 577.9 324.6 578.1 325.0 578.4 326.6 578.6 323.9 578.8 325.5 579.1 322.9 579.3 327.6 579.5 323.0 579.8 322.2 580.0 319.9 580.2 320.6 580.5 323.4 580.7 326.3 580.9 330.0 581.2 324.3 581.4 319.9 581.6 319.2 581.9 332.5 582.1 326.9 582.3 325.7 582.6 327.9 582.8 324.2 583.0 324.7 583.3 326.5 583.5 325.1 583.7 330.0 584.0 328.1 584.2 327.9 584.4 322.5 584.7 330.3 584.9 326.0 585.1 323.1 585.4 325.7 585.6 323.1 585.8 327.7 586.1 324.4 586.3 323.1 586.5 319.1 586.8 323.8 587.0 321.7 587.2 326.1 587.5 325.9 587.7 321.5 587.9 324.6 588.2 322.1 588.4 324.3 588.6 320.2 588.9 319.5 589.1 329.1 589.3 321.2 589.6 325.5 589.8 325.5 590.1 327.3 590.3 324.9 590.5 330.3 590.8 329.3 591.0 329.4 591.2 326.4 591.5 324.7 591.7 325.3 591.9 326.4 592.2 329.3 592.4 332.7 592.6 326.5 592.9 327.3 593.1 326.8 593.3 323.8 593.6 328.5 593.8 328.6 594.0 334.7 594.3 326.5 594.5 328.3 594.7 330.3 595.0 327.2 595.2 331.3 595.4 329.9 595.7 322.8 595.9 326.3 596.1 325.9 596.4 326.4 596.6 326.8 596.8 328.1 597.1 322.2 597.3 329.0 597.5 326.7 597.8 329.5 598.0 329.9 598.2 335.9 598.5 334.5 598.7 324.6 598.9 324.9 599.2 330.4 599.4 329.3 599.6 327.5 599.9 332.2 600.1 324.3 600.3 332.4 600.6 331.5 600.8 337.4 601.0 325.3 601.3 329.5 601.5 325.0 601.7 332.6 602.0 328.8 602.2 329.6 602.5 329.3 602.7 324.0 602.9 323.5 603.2 326.1 603.4 331.2 603.6 327.6 603.9 326.3 604.1 328.6 604.3 328.6 604.6 328.9 604.8 332.9 605.0 329.7 605.3 325.9 605.5 333.4 605.7 330.3 606.0 328.2 606.2 334.6 606.4 331.1 606.7 335.6 606.9 332.5 607.1 334.9 607.4 333.5 607.6 332.4 607.8 331.9 608.1 331.8 608.3 338.2 608.5 327.0 608.8 332.4 609.0 334.9 609.2 333.7 609.5 331.2 609.7 335.0 609.9 333.5 610.2 333.8 610.4 331.0 610.6 334.8 610.9 331.5 611.1 332.0 611.3 333.5 611.6 329.7 611.8 333.3 612.0 336.8 612.3 332.8 612.5 333.4 612.7 334.0 613.0 333.3 613.2 327.5 613.4 333.6 613.7 333.1 613.9 335.2 614.1 330.9 614.4 335.0 614.6 337.2 614.9 338.5 615.1 333.7 615.3 333.2 615.6 340.0 615.8 337.6 616.0 333.9 616.3 332.9 616.5 339.7 616.7 337.3 617.0 333.9 617.2 337.9 617.4 337.8 617.7 338.2 617.9 340.5 618.1 336.8 618.4 336.2 618.6 341.1 618.8 337.0 619.1 334.3 619.3 337.0 619.5 335.0 619.8 339.4 620.0 334.1 620.2 340.3 620.5 332.8 620.7 339.5 620.9 340.3 621.2 340.9 621.4 339.6 621.6 339.9 621.9 340.5 622.1 339.6 622.3 336.9 622.6 336.3 622.8 339.9 623.0 335.5 623.3 341.9 623.5 342.1 623.7 342.4 624.0 337.6 624.2 343.8 624.4 343.4 624.7 335.9 624.9 334.8 625.1 335.9 625.4 344.0 625.6 339.8 625.8 337.6 626.1 339.7 626.3 344.7 626.5 341.2 626.8 345.1 627.0 343.8 627.3 334.3 627.5 338.6 627.7 344.7 628.0 344.9 628.2 339.4 628.4 342.5 628.7 339.3 628.9 342.8 629.1 341.6 629.4 340.5 629.6 344.1 629.8 346.7 630.1 344.8 630.3 343.4 630.5 342.1 630.8 341.8 631.0 341.9 631.2 340.3 631.5 344.4 631.7 338.0 631.9 336.4 632.2 341.1 632.4 341.6 632.6 338.7 632.9 340.4 633.1 341.7 633.3 342.8 633.6 344.4 633.8 345.6 634.0 340.5 634.3 339.0 634.5 345.4 634.7 342.6 635.0 341.8 635.2 343.7 635.4 344.6 635.7 343.6 635.9 348.1 636.1 342.7 636.4 343.4 636.6 336.6 636.8 340.0 637.1 343.6 637.3 342.7 637.5 337.8 637.8 338.2 638.0 342.2 638.2 343.1 638.5 346.8 638.7 343.7 638.9 343.3 639.2 344.9 639.4 338.0 639.6 348.2 639.9 343.3 640.1 341.8 640.4 341.7 640.6 338.2 640.8 346.9 641.1 345.1 641.3 342.7 641.5 342.7 641.8 344.1 642.0 345.2 642.2 340.1 642.5 346.1 642.7 344.8 642.9 339.1 643.2 338.3 643.4 340.8 643.6 345.6 643.9 345.6 644.1 345.8 644.3 346.5 644.6 344.5 644.8 339.8 645.0 342.7 645.3 345.5 645.5 345.6 645.7 346.7 646.0 340.0 646.2 349.1 646.4 342.7 646.7 347.6 646.9 346.5 647.1 347.7 647.4 340.9 647.6 343.8 647.8 335.9 648.1 346.6 648.3 346.8 648.5 342.0 648.8 342.1 649.0 344.5 649.2 349.4 649.5 339.7 649.7 342.2 649.9 342.7 650.2 345.5 650.4 342.1 650.6 345.5 650.9 343.8 651.1 344.5 651.3 340.5 651.6 345.4 651.8 345.0 652.0 341.0 652.3 343.5 652.5 344.2 652.8 344.9 653.0 341.6 653.2 346.1 653.5 343.0 653.7 338.6 653.9 343.2 654.2 346.6 654.4 347.8 654.6 344.1 654.9 347.9 655.1 349.0 655.3 346.7 655.6 347.7 655.8 342.2 656.0 348.7 656.3 340.3 656.5 346.8 656.7 344.4 657.0 342.9 657.2 344.2 657.4 342.8 657.7 347.6 657.9 351.3 658.1 345.5 658.4 349.7 658.6 346.6 658.8 342.4 659.1 345.6 659.3 346.8 659.5 348.3 659.8 346.0 660.0 345.7 660.2 349.7 660.5 344.4 660.7 348.3 660.9 344.7 661.2 346.6 661.4 342.6 661.6 343.0 661.9 345.4 662.1 345.8 662.3 344.3 662.6 341.7 662.8 342.6 663.0 345.1 663.3 344.7 663.5 341.2 663.7 350.2 664.0 344.1 664.2 348.2 664.4 341.9 664.7 347.1 664.9 346.1 665.2 348.8 665.4 345.7 665.6 343.6 665.9 341.2 666.1 349.4 666.3 347.1 666.6 337.4 666.8 343.3 667.0 346.0 667.3 344.5 667.5 353.4 667.7 341.5 668.0 345.6 668.2 350.1 668.4 342.8 668.7 347.9 668.9 349.0 669.1 344.7 669.4 345.1 669.6 347.5 669.8 346.5 670.1 350.0 670.3 350.4 670.5 343.9 670.8 342.7 671.0 345.3 671.2 345.5 671.5 347.7 671.7 347.0 671.9 349.3 672.2 341.8 672.4 348.3 672.6 345.7 672.9 346.8 673.1 350.8 673.3 341.5 673.6 348.0 673.8 349.2 674.0 346.8 674.3 349.6 674.5 347.1 674.7 349.9 675.0 345.7 675.2 347.2 675.4 351.2 675.7 344.5 675.9 346.9 676.1 350.6 676.4 346.5 676.6 346.4 676.8 342.5 677.1 350.1 677.3 345.3 677.6 348.0 677.8 346.1 678.0 348.6 678.3 348.1 678.5 346.6 678.7 351.3 679.0 353.9 679.2 348.1 679.4 349.4 679.7 347.9 679.9 346.4 680.1 348.9 680.4 345.0 680.6 348.5 680.8 348.1 681.1 346.1 681.3 346.9 681.5 348.8 681.8 348.2 682.0 350.7 682.2 350.4 682.5 348.4 682.7 346.5 682.9 350.0 683.2 346.5 683.4 343.5 683.6 342.9 683.9 348.9 684.1 346.1 684.3 347.4 684.6 346.9 684.8 346.8 685.0 347.7 685.3 346.9 685.5 348.7 685.7 350.0 686.0 348.7 686.2 348.0 686.4 346.1 686.7 348.5 686.9 347.5 687.1 345.6 687.4 352.2 687.6 350.4 687.8 348.2 688.1 349.7 688.3 352.7 688.5 347.1 688.8 350.1 689.0 352.8 689.2 344.8 689.5 353.6 689.7 350.2 690.0 352.0 690.2 349.9 690.4 348.7 690.7 352.6 690.9 350.7 691.1 350.8 691.4 353.3 691.6 347.3 691.8 350.1 692.1 351.4 692.3 352.5 692.5 351.7 692.8 350.4 693.0 352.1 693.2 347.4 693.5 358.0 693.7 356.9 693.9 351.7 694.2 356.2 694.4 351.3 694.6 353.0 694.9 349.6 695.1 350.1 695.3 347.7 695.6 348.8 695.8 347.9 696.0 350.0 696.3 348.6 696.5 350.2 696.7 353.2 697.0 355.1 697.2 355.1 697.4 350.4 697.7 358.4 697.9 351.4 698.1 354.0 698.4 349.9 698.6 351.4 698.8 354.1 699.1 352.0 699.3 358.4 699.5 351.4 699.8 350.9 700.0 357.4 700.2 350.0 700.5 352.7 700.7 351.9 700.9 356.4 701.2 350.8 701.4 351.0 701.6 352.6 701.9 355.4 702.1 350.6 702.4 349.3 702.6 351.7 702.8 350.1 703.1 354.5 703.3 352.5 703.5 351.9 703.8 352.6 704.0 345.3 704.2 351.9 704.5 354.7 704.7 350.9 704.9 356.2 705.2 352.2 705.4 351.2 705.6 354.7 705.9 354.3 706.1 356.0 706.3 353.1 706.6 355.4 706.8 348.8 707.0 351.8 707.3 354.3 707.5 357.6 707.7 348.1 708.0 350.2 708.2 352.5 708.4 353.3 708.7 353.4 708.9 355.2 709.1 348.8 709.4 353.5 709.6 358.1 709.8 355.9 710.1 361.3 710.3 352.4 710.5 352.2 710.8 349.5 711.0 348.6 711.2 356.6 711.5 353.2 711.7 351.8 711.9 352.4 712.2 356.0 712.4 352.5 712.6 353.4 712.9 351.0 713.1 354.9 713.3 355.5 713.6 356.3 713.8 356.0 714.0 357.1 714.3 356.0 714.5 353.8 714.8 353.9 715.0 351.6 715.2 352.3 715.5 353.6 715.7 358.6 715.9 353.9 716.2 352.3 716.4 359.1 716.6 358.7 716.9 358.3 717.1 358.6 717.3 356.6 717.6 358.4 717.8 354.9 718.0 359.4 718.3 356.5 718.5 357.6 718.7 359.0 719.0 353.5 719.2 356.4 719.4 355.1 719.7 357.6 719.9 354.8 720.1 355.1 720.4 357.3 720.6 361.8 720.8 354.8 721.1 355.2 721.3 356.7 721.5 356.6 721.8 357.0 722.0 356.9 722.2 360.3 722.5 357.8 722.7 356.8 722.9 359.5 723.2 360.5 723.4 352.9 723.6 356.4 723.9 359.0 724.1 359.6 724.3 365.5 724.6 362.3 724.8 359.2 725.0 355.0 725.3 364.3 725.5 360.6 725.7 353.6 726.0 357.0 726.2 357.8 726.4 355.8 726.7 359.5 726.9 359.7 727.2 357.3 727.4 357.1 727.6 362.4 727.9 355.4 728.1 364.4 728.3 361.6 728.6 351.8 728.8 361.3 729.0 358.2 729.3 362.8 729.5 361.0 729.7 362.2 730.0 361.4 730.2 358.6 730.4 355.7 730.7 358.1 730.9 356.4 731.1 362.1 731.4 356.7 731.6 359.3 731.8 357.1 732.1 362.1 732.3 361.6 732.5 357.3 732.8 359.4 733.0 360.8" stroke="#ff00ff"/>
</g>
<g stroke="#000" stroke-width="1.2"><line x1="141.2" y1="418.60" x2="148" y2="418.60"/><line x1="141.2" y1="350.37" x2="148" y2="350.37"/><line x1="141.2" y1="282.13" x2="148" y2="282.13"/><line x1="141.2" y1="213.90" x2="148" y2="213.90"/><line x1="141.2" y1="145.67" x2="148" y2="145.67"/><line x1="141.2" y1="77.43" x2="148" y2="77.43"/><line x1="141.2" y1="9.20" x2="148" y2="9.20"/><line x1="148.10" y1="418" x2="148.10" y2="424.2"/><line x1="265.08" y1="418" x2="265.08" y2="424.2"/><line x1="382.06" y1="418" x2="382.06" y2="424.2"/><line x1="499.04" y1="418" x2="499.04" y2="424.2"/><line x1="616.02" y1="418" x2="616.02" y2="424.2"/><line x1="733.00" y1="418" x2="733.00" y2="424.2"/></g>
<path d="M148.2 8.9 L148.2 420" fill="none" stroke="#000" stroke-width="4.8" stroke-linecap="round"/><path d="M146 417.9 L733 417.9" fill="none" stroke="#000" stroke-width="4.0" stroke-linecap="round"/>
<g font-size="25.8"><text transform="translate(129.0 427.50) scale(1.2 1)" text-anchor="end">0</text><text transform="translate(129.0 359.27) scale(1.2 1)" text-anchor="end">5000</text><text transform="translate(129.0 291.03) scale(1.2 1)" text-anchor="end">10000</text><text transform="translate(129.0 222.80) scale(1.2 1)" text-anchor="end">15000</text><text transform="translate(129.0 154.57) scale(1.2 1)" text-anchor="end">20000</text><text transform="translate(129.0 86.33) scale(1.2 1)" text-anchor="end">25000</text><text transform="translate(129.0 18.10) scale(1.2 1)" text-anchor="end">30000</text><text transform="translate(148.50 465.3) scale(1.2 1)" text-anchor="middle">0</text><text transform="translate(265.48 465.3) scale(1.2 1)" text-anchor="middle">10</text><text transform="translate(382.46 465.3) scale(1.2 1)" text-anchor="middle">20</text><text transform="translate(499.44 465.3) scale(1.2 1)" text-anchor="middle">30</text><text transform="translate(616.42 465.3) scale(1.2 1)" text-anchor="middle">40</text><text transform="translate(733.40 465.3) scale(1.2 1)" text-anchor="middle">50</text></g>
<text transform="translate(293.0 500.9) scale(1.165 1)" font-size="25.8">Diffraction angle (2<tspan font-family="Liberation Serif" font-weight="normal" stroke-width="0.3">&#952;</tspan>)</text>
<text transform="translate(20 274.8) rotate(-90) scale(1.17 1)" font-size="25.8">Intensity</text>
<g stroke-width="1.25" stroke-linecap="round"><line x1="514.6" y1="75.2" x2="558.1" y2="75.2" stroke="#111"/><line x1="514.6" y1="104.5" x2="558.1" y2="104.5" stroke="#0000ff"/><line x1="514.6" y1="134.8" x2="558.1" y2="134.8" stroke="#ff00ff"/></g>
<g font-size="19.3"><text transform="translate(570.6 81.5) scale(1.12 1)">NCS</text><text transform="translate(570.6 111.2) scale(1.12 1)">RS-5</text><text transform="translate(570.6 141.1) scale(1.12 1)">GCS</text></g>
</svg>
</body></html>
